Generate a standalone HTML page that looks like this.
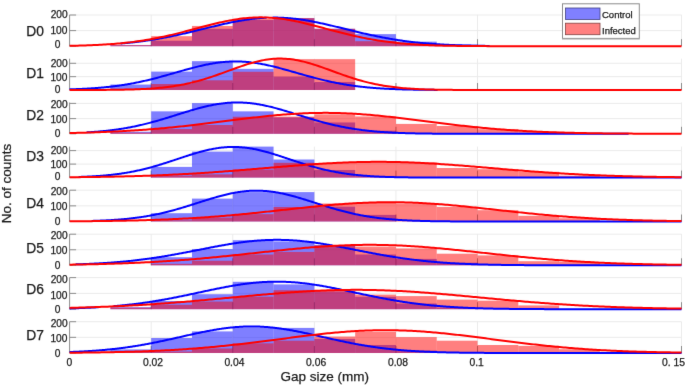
<!DOCTYPE html><html><head><meta charset="utf-8"><style>html,body{margin:0;padding:0;background:#fff;overflow:hidden;}svg{display:block;will-change:transform;}text{font-family:"Liberation Sans",sans-serif;fill:#1a1a1a;stroke:#1a1a1a;stroke-width:0.25px;}</style></head><body>
<svg width="685" height="385" viewBox="0 0 685 385">
<defs><filter id="bl" x="0" y="0" width="100%" height="100%" filterUnits="userSpaceOnUse" color-interpolation-filters="sRGB"><feConvolveMatrix order="3" kernelMatrix="0.00524 0.06192 0.00524 0.06192 0.73137 0.06192 0.00524 0.06192 0.00524" edgeMode="duplicate" preserveAlpha="true"/></filter></defs>
<g filter="url(#bl)">
<rect width="685" height="385" fill="#fff"/>
<line x1="151.19" y1="14.90" x2="151.19" y2="46.20" stroke="#ebebeb" stroke-width="1"/>
<line x1="232.77" y1="14.90" x2="232.77" y2="46.20" stroke="#ebebeb" stroke-width="1"/>
<line x1="314.36" y1="14.90" x2="314.36" y2="46.20" stroke="#ebebeb" stroke-width="1"/>
<line x1="395.94" y1="14.90" x2="395.94" y2="46.20" stroke="#ebebeb" stroke-width="1"/>
<line x1="477.53" y1="14.90" x2="477.53" y2="46.20" stroke="#ebebeb" stroke-width="1"/>
<line x1="681.50" y1="14.90" x2="681.50" y2="46.20" stroke="#ebebeb" stroke-width="1"/>
<line x1="69.6" y1="30.60" x2="681.50" y2="30.60" stroke="#ebebeb" stroke-width="1"/>
<line x1="69.6" y1="15.00" x2="681.50" y2="15.00" stroke="#ebebeb" stroke-width="1"/>
<line x1="69.6" y1="14.90" x2="69.6" y2="46.20" stroke="#8c8c8c" stroke-width="1"/>
<line x1="69.6" y1="46.20" x2="76.1" y2="46.20" stroke="#8c8c8c" stroke-width="1"/>
<line x1="69.6" y1="30.60" x2="76.1" y2="30.60" stroke="#8c8c8c" stroke-width="1"/>
<line x1="69.6" y1="15.00" x2="76.1" y2="15.00" stroke="#8c8c8c" stroke-width="1"/>
<line x1="151.19" y1="39.20" x2="151.19" y2="46.20" stroke="#8c8c8c" stroke-width="1"/>
<line x1="232.77" y1="39.20" x2="232.77" y2="46.20" stroke="#8c8c8c" stroke-width="1"/>
<line x1="314.36" y1="39.20" x2="314.36" y2="46.20" stroke="#8c8c8c" stroke-width="1"/>
<line x1="395.94" y1="39.20" x2="395.94" y2="46.20" stroke="#8c8c8c" stroke-width="1"/>
<line x1="477.53" y1="39.20" x2="477.53" y2="46.20" stroke="#8c8c8c" stroke-width="1"/>
<line x1="681.50" y1="39.20" x2="681.50" y2="46.20" stroke="#8c8c8c" stroke-width="1"/>
<rect x="110.39" y="45.12" width="40.79" height="1.09" fill="#0000ff" fill-opacity="0.5"/>
<rect x="151.19" y="40.72" width="40.79" height="5.48" fill="#0000ff" fill-opacity="0.5"/>
<rect x="191.98" y="28.79" width="40.79" height="17.41" fill="#0000ff" fill-opacity="0.5"/>
<rect x="232.77" y="19.99" width="40.79" height="26.21" fill="#0000ff" fill-opacity="0.5"/>
<rect x="273.57" y="18.11" width="40.79" height="28.09" fill="#0000ff" fill-opacity="0.5"/>
<rect x="314.36" y="28.79" width="40.79" height="17.41" fill="#0000ff" fill-opacity="0.5"/>
<rect x="355.15" y="34.12" width="40.79" height="12.08" fill="#0000ff" fill-opacity="0.5"/>
<rect x="395.94" y="41.66" width="40.79" height="4.54" fill="#0000ff" fill-opacity="0.5"/>
<rect x="436.74" y="44.64" width="40.79" height="1.56" fill="#0000ff" fill-opacity="0.5"/>
<rect x="110.39" y="45.12" width="40.79" height="1.09" fill="#ff0000" fill-opacity="0.5"/>
<rect x="151.19" y="36.17" width="40.79" height="10.03" fill="#ff0000" fill-opacity="0.5"/>
<rect x="191.98" y="25.96" width="40.79" height="20.24" fill="#ff0000" fill-opacity="0.5"/>
<rect x="232.77" y="19.05" width="40.79" height="27.15" fill="#ff0000" fill-opacity="0.5"/>
<rect x="273.57" y="18.11" width="40.79" height="28.09" fill="#ff0000" fill-opacity="0.5"/>
<rect x="314.36" y="28.79" width="40.79" height="17.41" fill="#ff0000" fill-opacity="0.5"/>
<rect x="355.15" y="41.19" width="40.79" height="5.01" fill="#ff0000" fill-opacity="0.5"/>
<rect x="395.94" y="43.70" width="40.79" height="2.50" fill="#ff0000" fill-opacity="0.5"/>
<rect x="436.74" y="45.43" width="40.79" height="0.77" fill="#ff0000" fill-opacity="0.5"/>
<path d="M120.60,43.53 L121.60,43.44 L122.60,43.36 L123.60,43.27 L124.60,43.18 L125.60,43.09 L126.60,43.00 L127.60,42.90 L128.60,42.80 L129.60,42.70 L130.60,42.60 L131.60,42.49 L132.60,42.39 L133.60,42.28 L134.60,42.16 L135.60,42.05 L136.60,41.93 L137.60,41.81 L138.60,41.69 L139.60,41.57 L140.60,41.44 L141.60,41.31 L142.60,41.18 L143.60,41.05 L144.60,40.91 L145.60,40.77 L146.60,40.63 L147.60,40.48 L148.60,40.34 L149.60,40.19 L150.60,40.04 L151.60,39.88 L152.60,39.72 L153.60,39.56 L154.60,39.40 L155.60,39.24 L156.60,39.07 L157.60,38.90 L158.60,38.73 L159.60,38.55 L160.60,38.38 L161.60,38.20 L162.60,38.01 L163.60,37.83 L164.60,37.64 L165.60,37.45 L166.60,37.26 L167.60,37.06 L168.60,36.87 L169.60,36.67 L170.60,36.47 L171.60,36.26 L172.60,36.06 L173.60,35.85 L174.60,35.64 L175.60,35.42 L176.60,35.21 L177.60,34.99 L178.60,34.77 L179.60,34.55 L180.60,34.33 L181.60,34.11 L182.60,33.88 L183.60,33.65 L184.60,33.42 L185.60,33.19 L186.60,32.96 L187.60,32.73 L188.60,32.49 L189.60,32.26 L190.60,32.02 L191.60,31.78 L192.60,31.54 L193.60,31.30 L194.60,31.06 L195.60,30.81 L196.60,30.57 L197.60,30.32 L198.60,30.08 L199.60,29.83 L200.60,29.59 L201.60,29.34 L202.60,29.10 L203.60,28.85 L204.60,28.60 L205.60,28.36 L206.60,28.11 L207.60,27.87 L208.60,27.62 L209.60,27.38 L210.60,27.13 L211.60,26.89 L212.60,26.65 L213.60,26.41 L214.60,26.16 L215.60,25.93 L216.60,25.69 L217.60,25.45 L218.60,25.21 L219.60,24.98 L220.60,24.75 L221.60,24.52 L222.60,24.29 L223.60,24.06 L224.60,23.84 L225.60,23.62 L226.60,23.40 L227.60,23.18 L228.60,22.97 L229.60,22.76 L230.60,22.55 L231.60,22.34 L232.60,22.14 L233.60,21.94 L234.60,21.74 L235.60,21.55 L236.60,21.36 L237.60,21.17 L238.60,20.99 L239.60,20.81 L240.60,20.64 L241.60,20.47 L242.60,20.30 L243.60,20.14 L244.60,19.98 L245.60,19.83 L246.60,19.68 L247.60,19.53 L248.60,19.39 L249.60,19.26 L250.60,19.13 L251.60,19.00 L252.60,18.88 L253.60,18.76 L254.60,18.65 L255.60,18.55 L256.60,18.45 L257.60,18.35 L258.60,18.26 L259.60,18.18 L260.60,18.10 L261.60,18.02 L262.60,17.95 L263.60,17.89 L264.60,17.83 L265.60,17.78 L266.60,17.74 M272.60,17.58 L273.60,17.57 L274.60,17.57 L275.60,17.58 L276.60,17.59 L277.60,17.60 L278.60,17.63 L279.60,17.65 L280.60,17.69 L281.60,17.73 L282.60,17.77 L283.60,17.82 L284.60,17.88 L285.60,17.94 L286.60,18.01 L287.60,18.08 L288.60,18.16 L289.60,18.25 L290.60,18.34 L291.60,18.43 L292.60,18.53 L293.60,18.64 L294.60,18.75 L295.60,18.86 L296.60,18.98 L297.60,19.11 L298.60,19.24 L299.60,19.37 L300.60,19.51 L301.60,19.65 L302.60,19.80 L303.60,19.96 L304.60,20.11 L305.60,20.28 L306.60,20.44 L307.60,20.61 L308.60,20.79 L309.60,20.96 L310.60,21.14 L311.60,21.33 L312.60,21.52 L313.60,21.71 L314.60,21.91 L315.60,22.11 L316.60,22.31 L317.60,22.51 L318.60,22.72 L319.60,22.93 L320.60,23.15 L321.60,23.36 L322.60,23.58 L323.60,23.80 L324.60,24.03 L325.60,24.25 L326.60,24.48 L327.60,24.71 L328.60,24.94 L329.60,25.18 L330.60,25.41 L331.60,25.65 L332.60,25.89 L333.60,26.13 L334.60,26.37 L335.60,26.61 L336.60,26.85 L337.60,27.09 L338.60,27.34 L339.60,27.58 L340.60,27.83 L341.60,28.07 L342.60,28.32 L343.60,28.56 L344.60,28.81 L345.60,29.06 L346.60,29.30 L347.60,29.55 L348.60,29.79 L349.60,30.04 L350.60,30.29 L351.60,30.53 L352.60,30.77 L353.60,31.02 L354.60,31.26 L355.60,31.50 L356.60,31.74 L357.60,31.98 L358.60,32.22 L359.60,32.45 L360.60,32.69 L361.60,32.92 L362.60,33.16 L363.60,33.39 L364.60,33.62 L365.60,33.84 L366.60,34.07 L367.60,34.30 L368.60,34.52 L369.60,34.74 L370.60,34.96 L371.60,35.17 L372.60,35.39 L373.60,35.60 L374.60,35.81 L375.60,36.02 L376.60,36.23 L377.60,36.43 L378.60,36.63 L379.60,36.83 L380.60,37.03 L381.60,37.23 L382.60,37.42 L383.60,37.61 L384.60,37.80 L385.60,37.98 L386.60,38.17 L387.60,38.35 L388.60,38.52 L389.60,38.70 L390.60,38.87 L391.60,39.04 L392.60,39.21 L393.60,39.38 L394.60,39.54 L395.60,39.70 L396.60,39.86 L397.60,40.01 L398.60,40.16 L399.60,40.31 L400.60,40.46 L401.60,40.60 L402.60,40.75 L403.60,40.89 L404.60,41.02 L405.60,41.16 L406.60,41.29 L407.60,41.42 L408.60,41.55 L409.60,41.67 L410.60,41.79 L411.60,41.91 L412.60,42.03 L413.60,42.14 L414.60,42.26 L415.60,42.37 L416.60,42.48 L417.60,42.58 L418.60,42.68 L419.60,42.79 L420.60,42.88 L421.60,42.98 L422.60,43.07 L423.60,43.17 L424.60,43.26 L425.60,43.34 L426.60,43.43 L427.60,43.51 L428.60,43.60 L429.60,43.68 L430.60,43.75 L431.60,43.83 L432.60,43.90 L433.60,43.98 L434.60,44.05 L435.60,44.12 L436.60,44.18 L437.60,44.25 L438.60,44.31 L439.60,44.37 L440.60,44.43 L441.60,44.49 L442.60,44.55 L443.60,44.60 L444.60,44.66 L445.60,44.71 L446.60,44.76 L447.60,44.81 L448.60,44.86 L449.60,44.90 L450.60,44.95 L451.60,44.99 L452.60,45.03 L453.60,45.08 L454.60,45.12 L455.60,45.15 L456.60,45.19 L457.60,45.23 L458.60,45.26 L459.60,45.30 L460.60,45.33 L461.60,45.36 L462.60,45.39 L463.60,45.42 L464.60,45.45 L465.60,45.48 L466.60,45.51 L467.60,45.53 L468.60,45.56 L469.60,45.58 L470.60,45.61 L471.60,45.63 L472.60,45.65 L473.60,45.67 L474.60,45.70 L475.60,45.72 L476.60,45.73 L477.60,45.75 L478.60,45.77 L479.60,45.79 L480.60,45.81 L481.60,45.82 L482.60,45.84 L483.60,45.85 L484.60,45.87 L485.60,45.88 L486.60,45.89 L487.60,45.91 L488.60,45.92 L489.60,45.93" fill="none" stroke="#0000ff" stroke-width="2.0" stroke-linejoin="round"/>
<path d="M69.60,45.80 L71.60,45.77 L73.60,45.73 L75.60,45.68 L77.60,45.64 L79.60,45.59 L81.60,45.53 L83.60,45.47 L85.60,45.41 L87.60,45.34 L89.60,45.27 L91.60,45.19 L93.60,45.11 L95.60,45.02 L97.60,44.93 L99.60,44.83 L101.60,44.72 L103.60,44.61 L105.60,44.49 L107.60,44.36 L109.60,44.22 L111.60,44.08 L113.60,43.93 L115.60,43.77 L117.60,43.59 L119.60,43.42 L121.60,43.23 L123.60,43.03 L125.60,42.82 L127.60,42.60 L129.60,42.37 L131.60,42.13 L133.60,41.87 L135.60,41.61 L137.60,41.33 L139.60,41.05 L141.60,40.75 L143.60,40.44 L145.60,40.11 L147.60,39.78 L149.60,39.43 L151.60,39.07 L153.60,38.70 L155.60,38.32 L157.60,37.92 L159.60,37.52 L161.60,37.10 L163.60,36.67 L165.60,36.23 L167.60,35.78 L169.60,35.32 L171.60,34.85 L173.60,34.37 L175.60,33.88 L177.60,33.39 L179.60,32.89 L181.60,32.37 L183.60,31.86 L185.60,31.34 L187.60,30.81 L189.60,30.28 L191.60,29.75 L193.60,29.21 L195.60,28.68 L197.60,28.14 L199.60,27.61 L201.60,27.08 L203.60,26.55 L205.60,26.02 L207.60,25.50 L209.60,24.99 L211.60,24.48 L213.60,23.99 L215.60,23.50 L217.60,23.03 L219.60,22.56 L221.60,22.11 L223.60,21.68 L225.60,21.26 L227.60,20.86 L229.60,20.47 L231.60,20.11 L233.60,19.76 L235.60,19.43 L237.60,19.13 L239.60,18.84 L241.60,18.58 L243.60,18.35 L245.60,18.14 L247.60,17.95 L249.60,17.79 L251.60,17.65 L253.60,17.54 L255.60,17.46 L257.60,17.40 L259.60,17.37 L261.60,17.37 L263.60,17.40 L265.60,17.45 L267.60,17.53 L269.60,17.63 L271.60,17.77 L273.60,17.92 L275.60,18.11 L277.60,18.31 L279.60,18.55 L281.60,18.80 L283.60,19.08 L285.60,19.38 L287.60,19.71 L289.60,20.05 L291.60,20.42 L293.60,20.80 L295.60,21.20 L297.60,21.62 L299.60,22.05 L301.60,22.50 L303.60,22.96 L305.60,23.43 L307.60,23.91 L309.60,24.41 L311.60,24.91 L313.60,25.42 L315.60,25.94 L317.60,26.47 L319.60,27.00 L321.60,27.53 L323.60,28.06 L325.60,28.60 L327.60,29.13 L329.60,29.67 L331.60,30.20 L333.60,30.73 L335.60,31.26 L337.60,31.78 L339.60,32.30 L341.60,32.81 L343.60,33.31 L345.60,33.81 L347.60,34.30 L349.60,34.78 L351.60,35.25 L353.60,35.71 L355.60,36.17 L357.60,36.61 L359.60,37.04 L361.60,37.46 L363.60,37.86 L365.60,38.26 L367.60,38.65 L369.60,39.02 L371.60,39.38 L373.60,39.73 L375.60,40.06 L377.60,40.39 L379.60,40.70 L381.60,41.00 L383.60,41.29 L385.60,41.57 L387.60,41.83 L389.60,42.09 L391.60,42.33 L393.60,42.56 L395.60,42.78 L397.60,43.00 L399.60,43.20 L401.60,43.39 L403.60,43.57 L405.60,43.74 L407.60,43.90 L409.60,44.06 L411.60,44.20 L413.60,44.34 L415.60,44.47 L417.60,44.59 L419.60,44.71 L421.60,44.81 L423.60,44.92 L425.60,45.01 L427.60,45.10 L429.60,45.18 L431.60,45.26 L433.60,45.33 L435.60,45.40 L437.60,45.46 L439.60,45.52 L441.60,45.58 L443.60,45.63 L445.60,45.68 L447.60,45.72 L449.60,45.76 L451.60,45.80 L453.60,45.83 L455.60,45.86 L457.60,45.89 L459.60,45.92 L461.60,45.95 L463.60,45.97 L465.60,45.99 L467.60,46.01 L469.60,46.03 L471.60,46.04 L473.60,46.06 L475.60,46.07 L477.60,46.08 L479.60,46.10 L481.60,46.11 L483.60,46.11 L485.60,46.12 L487.60,46.13 L489.60,46.14 L491.60,46.14 L493.60,46.15 L495.60,46.16 L497.60,46.16 L499.60,46.16 L501.60,46.17 L503.60,46.17 L505.60,46.17 L507.60,46.18 L509.60,46.18 L511.60,46.18 L513.60,46.18 L515.60,46.19 L517.60,46.19 L519.60,46.19 L521.60,46.19 L523.60,46.19 L525.60,46.19 L527.60,46.19 L529.60,46.19 L531.60,46.19 L533.60,46.20 L535.60,46.20 L537.60,46.20 L539.60,46.20 L541.60,46.20 L543.60,46.20 L545.60,46.20 L547.60,46.20 L549.60,46.20 L551.60,46.20 L553.60,46.20 L555.60,46.20 L557.60,46.20 L559.60,46.20 L561.60,46.20 L563.60,46.20 L565.60,46.20 L567.60,46.20 L569.60,46.20 L571.60,46.20 L573.60,46.20 L575.60,46.20 L577.60,46.20 L579.60,46.20 L581.60,46.20 L583.60,46.20 L585.60,46.20 L587.60,46.20 L589.60,46.20 L591.60,46.20 L593.60,46.20 L595.60,46.20 L597.60,46.20 L599.60,46.20 L601.60,46.20 L603.60,46.20 L605.60,46.20 L607.60,46.20 L609.60,46.20 L611.60,46.20 L613.60,46.20 L615.60,46.20 L617.60,46.20 L619.60,46.20 L621.60,46.20 L623.60,46.20 L625.60,46.20 L627.60,46.20 L629.60,46.20 L631.60,46.20 L633.60,46.20 L635.60,46.20 L637.60,46.20 L639.60,46.20 L641.60,46.20 L643.60,46.20 L645.60,46.20 L647.60,46.20 L649.60,46.20 L651.60,46.20 L653.60,46.20 L655.60,46.20 L657.60,46.20 L659.60,46.20 L661.60,46.20 L663.60,46.20 L665.60,46.20 L667.60,46.20 L669.60,46.20 L671.60,46.20 L673.60,46.20 L675.60,46.20 L677.60,46.20 L679.60,46.20 L681.50,46.20" fill="none" stroke="#ff0000" stroke-width="2.0" stroke-linejoin="round"/>
<text x="57.6" y="48.20" font-size="10.2" text-anchor="middle">0</text>
<text x="58.9" y="34.35" font-size="10.2" text-anchor="middle">100</text>
<text x="59.2" y="18.10" font-size="10.2" text-anchor="middle">200</text>
<text x="26.2" y="36.20" font-size="13.8">D0</text>
<line x1="151.19" y1="58.70" x2="151.19" y2="90.00" stroke="#ebebeb" stroke-width="1"/>
<line x1="232.77" y1="58.70" x2="232.77" y2="90.00" stroke="#ebebeb" stroke-width="1"/>
<line x1="314.36" y1="58.70" x2="314.36" y2="90.00" stroke="#ebebeb" stroke-width="1"/>
<line x1="395.94" y1="58.70" x2="395.94" y2="90.00" stroke="#ebebeb" stroke-width="1"/>
<line x1="477.53" y1="58.70" x2="477.53" y2="90.00" stroke="#ebebeb" stroke-width="1"/>
<line x1="681.50" y1="58.70" x2="681.50" y2="90.00" stroke="#ebebeb" stroke-width="1"/>
<line x1="69.6" y1="76.65" x2="681.50" y2="76.65" stroke="#ebebeb" stroke-width="1"/>
<line x1="69.6" y1="63.30" x2="681.50" y2="63.30" stroke="#ebebeb" stroke-width="1"/>
<line x1="69.6" y1="58.70" x2="69.6" y2="90.00" stroke="#8c8c8c" stroke-width="1"/>
<line x1="69.6" y1="90.00" x2="76.1" y2="90.00" stroke="#8c8c8c" stroke-width="1"/>
<line x1="69.6" y1="76.65" x2="76.1" y2="76.65" stroke="#8c8c8c" stroke-width="1"/>
<line x1="69.6" y1="63.30" x2="76.1" y2="63.30" stroke="#8c8c8c" stroke-width="1"/>
<line x1="151.19" y1="83.00" x2="151.19" y2="90.00" stroke="#8c8c8c" stroke-width="1"/>
<line x1="232.77" y1="83.00" x2="232.77" y2="90.00" stroke="#8c8c8c" stroke-width="1"/>
<line x1="314.36" y1="83.00" x2="314.36" y2="90.00" stroke="#8c8c8c" stroke-width="1"/>
<line x1="395.94" y1="83.00" x2="395.94" y2="90.00" stroke="#8c8c8c" stroke-width="1"/>
<line x1="477.53" y1="83.00" x2="477.53" y2="90.00" stroke="#8c8c8c" stroke-width="1"/>
<line x1="681.50" y1="83.00" x2="681.50" y2="90.00" stroke="#8c8c8c" stroke-width="1"/>
<rect x="110.39" y="84.55" width="40.79" height="5.45" fill="#0000ff" fill-opacity="0.5"/>
<rect x="151.19" y="71.60" width="40.79" height="18.40" fill="#0000ff" fill-opacity="0.5"/>
<rect x="191.98" y="61.14" width="40.79" height="28.86" fill="#0000ff" fill-opacity="0.5"/>
<rect x="232.77" y="68.85" width="40.79" height="21.15" fill="#0000ff" fill-opacity="0.5"/>
<rect x="273.57" y="76.57" width="40.79" height="13.43" fill="#0000ff" fill-opacity="0.5"/>
<rect x="314.36" y="82.02" width="40.79" height="7.98" fill="#0000ff" fill-opacity="0.5"/>
<rect x="110.39" y="88.93" width="40.79" height="1.07" fill="#ff0000" fill-opacity="0.5"/>
<rect x="151.19" y="84.01" width="40.79" height="5.99" fill="#ff0000" fill-opacity="0.5"/>
<rect x="191.98" y="80.29" width="40.79" height="9.71" fill="#ff0000" fill-opacity="0.5"/>
<rect x="232.77" y="71.78" width="40.79" height="18.22" fill="#ff0000" fill-opacity="0.5"/>
<rect x="273.57" y="59.14" width="40.79" height="30.86" fill="#ff0000" fill-opacity="0.5"/>
<rect x="314.36" y="59.14" width="40.79" height="30.86" fill="#ff0000" fill-opacity="0.5"/>
<path d="M69.60,89.35 L70.60,89.32 L71.60,89.29 L72.60,89.26 L73.60,89.23 L74.60,89.19 L75.60,89.16 L76.60,89.12 L77.60,89.08 L78.60,89.04 L79.60,89.00 L80.60,88.95 L81.60,88.91 L82.60,88.86 L83.60,88.81 L84.60,88.76 L85.60,88.71 L86.60,88.65 L87.60,88.60 L88.60,88.54 L89.60,88.48 L90.60,88.42 L91.60,88.35 L92.60,88.29 L93.60,88.22 L94.60,88.15 L95.60,88.07 L96.60,88.00 L97.60,87.92 L98.60,87.84 L99.60,87.76 L100.60,87.67 L101.60,87.59 L102.60,87.50 L103.60,87.40 L104.60,87.31 L105.60,87.21 L106.60,87.11 L107.60,87.00 L108.60,86.90 L109.60,86.79 L110.60,86.67 L111.60,86.56 L112.60,86.44 L113.60,86.32 L114.60,86.19 L115.60,86.06 L116.60,85.93 L117.60,85.80 L118.60,85.66 L119.60,85.52 L120.60,85.37 L121.60,85.23 L122.60,85.08 L123.60,84.92 L124.60,84.76 L125.60,84.60 L126.60,84.44 L127.60,84.27 L128.60,84.10 L129.60,83.92 L130.60,83.74 L131.60,83.56 L132.60,83.37 L133.60,83.18 L134.60,82.99 L135.60,82.79 L136.60,82.59 L137.60,82.39 L138.60,82.18 L139.60,81.97 L140.60,81.76 L141.60,81.54 L142.60,81.32 L143.60,81.10 L144.60,80.87 L145.60,80.64 L146.60,80.41 L147.60,80.17 L148.60,79.94 L149.60,79.69 L150.60,79.45 L151.60,79.20 L152.60,78.95 L153.60,78.70 L154.60,78.44 L155.60,78.18 L156.60,77.92 L157.60,77.66 L158.60,77.39 L159.60,77.12 L160.60,76.85 L161.60,76.58 L162.60,76.30 L163.60,76.03 L164.60,75.75 L165.60,75.47 L166.60,75.19 L167.60,74.91 L168.60,74.63 L169.60,74.34 L170.60,74.06 L171.60,73.77 L172.60,73.49 L173.60,73.20 L174.60,72.91 L175.60,72.63 L176.60,72.34 L177.60,72.05 L178.60,71.77 L179.60,71.48 L180.60,71.20 L181.60,70.91 L182.60,70.63 L183.60,70.35 L184.60,70.07 L185.60,69.79 L186.60,69.51 L187.60,69.24 L188.60,68.96 L189.60,68.69 L190.60,68.42 L191.60,68.16 L192.60,67.89 L193.60,67.63 L194.60,67.38 L195.60,67.12 L196.60,66.87 L197.60,66.63 L198.60,66.38 L199.60,66.15 L200.60,65.91 L201.60,65.68 L202.60,65.46 L203.60,65.23 L204.60,65.02 L205.60,64.81 L206.60,64.60 L207.60,64.40 L208.60,64.21 L209.60,64.02 L210.60,63.83 L211.60,63.66 L212.60,63.49 L213.60,63.32 L214.60,63.16 L215.60,63.01 L216.60,62.86 L217.60,62.73 L218.60,62.59 L219.60,62.47 L220.60,62.35 L221.60,62.24 L222.60,62.13 L223.60,62.04 L224.60,61.95 L225.60,61.87 L226.60,61.79 L227.60,61.73 L228.60,61.67 L229.60,61.61 L230.60,61.57 L231.60,61.54 L232.60,61.51 L233.60,61.49 L234.60,61.47 L235.60,61.47 L236.60,61.47 L237.60,61.48 L238.60,61.50 L239.60,61.53 L240.60,61.56 L241.60,61.61 L242.60,61.65 L243.60,61.71 L244.60,61.78 L245.60,61.85 L246.60,61.93 L247.60,62.02 L248.60,62.11 L249.60,62.22 L250.60,62.33 L251.60,62.44 M253.60,62.70 L254.60,62.83 L255.60,62.98 L256.60,63.13 L257.60,63.29 L258.60,63.45 L259.60,63.62 L260.60,63.80 L261.60,63.98 L262.60,64.17 L263.60,64.36 L264.60,64.56 L265.60,64.76 L266.60,64.97 L267.60,65.19 L268.60,65.41 L269.60,65.63 L270.60,65.86 L271.60,66.10 L272.60,66.33 L273.60,66.58 L274.60,66.82 L275.60,67.07 L276.60,67.32 L277.60,67.58 L278.60,67.84 L279.60,68.10 L280.60,68.37 L281.60,68.64 L282.60,68.91 L283.60,69.18 L284.60,69.45 L285.60,69.73 L286.60,70.01 L287.60,70.29 L288.60,70.57 L289.60,70.85 L290.60,71.14 L291.60,71.42 L292.60,71.71 L293.60,71.99 L294.60,72.28 L295.60,72.57 L296.60,72.85 L297.60,73.14 L298.60,73.43 L299.60,73.71 L300.60,74.00 L301.60,74.28 L302.60,74.57 L303.60,74.85 L304.60,75.13 L305.60,75.41 L306.60,75.69 L307.60,75.97 L308.60,76.25 L309.60,76.52 L310.60,76.79 L311.60,77.06 L312.60,77.33 L313.60,77.60 L314.60,77.86 L315.60,78.13 L316.60,78.39 L317.60,78.64 L318.60,78.90 L319.60,79.15 L320.60,79.40 L321.60,79.64 L322.60,79.88 L323.60,80.12 L324.60,80.36 L325.60,80.60 L326.60,80.83 L327.60,81.05 L328.60,81.28 L329.60,81.50 L330.60,81.72 L331.60,81.93 L332.60,82.14 L333.60,82.35 L334.60,82.55 L335.60,82.75 L336.60,82.95 L337.60,83.14 L338.60,83.33 L339.60,83.52 L340.60,83.70 L341.60,83.88 L342.60,84.06 L343.60,84.23 L344.60,84.40 L345.60,84.57 L346.60,84.73 L347.60,84.89 L348.60,85.04 L349.60,85.20 L350.60,85.34 L351.60,85.49 L352.60,85.63 L353.60,85.77 L354.60,85.91 L355.60,86.04 L356.60,86.17 L357.60,86.29 L358.60,86.41 L359.60,86.53 L360.60,86.65 L361.60,86.76 L362.60,86.87 L363.60,86.98 L364.60,87.09 L365.60,87.19 L366.60,87.29 L367.60,87.38 L368.60,87.48 L369.60,87.57 L370.60,87.66 L371.60,87.74 L372.60,87.82 L373.60,87.90 L374.60,87.98 L375.60,88.06 L376.60,88.13 L377.60,88.20 L378.60,88.27 L379.60,88.34 L380.60,88.40 L381.60,88.47 L382.60,88.53 L383.60,88.58 L384.60,88.64 L385.60,88.70 L386.60,88.75 L387.60,88.80 L388.60,88.85 L389.60,88.90 L390.60,88.94 L391.60,88.99 L392.60,89.03 L393.60,89.07 L394.60,89.11 L395.60,89.15 L396.60,89.18 L397.60,89.22 L398.60,89.25 L399.60,89.29 L400.60,89.32 L401.60,89.35 L402.60,89.38 L403.60,89.41 L404.60,89.43 L405.60,89.46 L406.60,89.48 L407.60,89.51 L408.60,89.53 L409.60,89.55 L410.60,89.57 L411.60,89.59 L412.60,89.61 L413.60,89.63 L414.60,89.65 L415.60,89.66 L416.60,89.68 L417.60,89.70 L418.60,89.71 L419.60,89.73 L420.60,89.74 L421.60,89.75 L422.60,89.76 L423.60,89.78 L424.60,89.79 L425.60,89.80 L426.60,89.81 L427.60,89.82 L428.60,89.83 L429.60,89.84 L430.60,89.85 L431.60,89.85 L432.60,89.86 L433.60,89.87 L434.60,89.88 L435.60,89.88 L436.60,89.89 L437.60,89.89" fill="none" stroke="#0000ff" stroke-width="2.0" stroke-linejoin="round"/>
<path d="M69.60,89.99 L71.60,89.99 L73.60,89.99 L75.60,89.99 L77.60,89.98 L79.60,89.98 L81.60,89.98 L83.60,89.98 L85.60,89.97 L87.60,89.97 L89.60,89.96 L91.60,89.96 L93.60,89.95 L95.60,89.94 L97.60,89.93 L99.60,89.93 L101.60,89.91 L103.60,89.90 L105.60,89.89 L107.60,89.87 L109.60,89.86 L111.60,89.84 L113.60,89.82 L115.60,89.79 L117.60,89.76 L119.60,89.74 L121.60,89.70 L123.60,89.66 L125.60,89.62 L127.60,89.58 L129.60,89.53 L131.60,89.47 L133.60,89.41 L135.60,89.35 L137.60,89.27 L139.60,89.19 L141.60,89.10 L143.60,89.01 L145.60,88.90 L147.60,88.79 L149.60,88.66 L151.60,88.53 L153.60,88.38 L155.60,88.23 L157.60,88.06 L159.60,87.87 L161.60,87.67 L163.60,87.46 L165.60,87.24 L167.60,86.99 L169.60,86.73 L171.60,86.46 L173.60,86.16 L175.60,85.85 L177.60,85.52 L179.60,85.17 L181.60,84.80 L183.60,84.41 L185.60,84.00 L187.60,83.57 L189.60,83.12 L191.60,82.65 L193.60,82.15 L195.60,81.64 L197.60,81.11 L199.60,80.55 L201.60,79.98 L203.60,79.39 L205.60,78.78 L207.60,78.15 L209.60,77.50 L211.60,76.84 L213.60,76.16 L215.60,75.48 L217.60,74.77 L219.60,74.06 L221.60,73.35 L223.60,72.62 L225.60,71.89 L227.60,71.16 L229.60,70.42 L231.60,69.69 L233.60,68.96 L235.60,68.24 L237.60,67.53 L239.60,66.82 L241.60,66.13 L243.60,65.46 L245.60,64.81 L247.60,64.17 L249.60,63.56 L251.60,62.98 L253.60,62.42 L255.60,61.89 L257.60,61.40 L259.60,60.94 L261.60,60.51 L263.60,60.13 L265.60,59.78 L267.60,59.48 L269.60,59.21 L271.60,59.00 L273.60,58.82 L275.60,58.69 L277.60,58.61 L279.60,58.58 L281.60,58.59 L283.60,58.65 L285.60,58.75 L287.60,58.90 L289.60,59.09 L291.60,59.33 L293.60,59.61 L295.60,59.94 L297.60,60.30 L299.60,60.71 L301.60,61.15 L303.60,61.62 L305.60,62.13 L307.60,62.68 L309.60,63.25 L311.60,63.84 L313.60,64.47 L315.60,65.11 L317.60,65.77 L319.60,66.45 L321.60,67.15 L323.60,67.86 L325.60,68.58 L327.60,69.30 L329.60,70.03 L331.60,70.77 L333.60,71.50 L335.60,72.23 L337.60,72.96 L339.60,73.68 L341.60,74.40 L343.60,75.10 L345.60,75.80 L347.60,76.48 L349.60,77.15 L351.60,77.80 L353.60,78.44 L355.60,79.06 L357.60,79.67 L359.60,80.25 L361.60,80.81 L363.60,81.36 L365.60,81.88 L367.60,82.39 L369.60,82.87 L371.60,83.33 L373.60,83.77 L375.60,84.20 L377.60,84.60 L379.60,84.98 L381.60,85.34 L383.60,85.68 L385.60,86.00 L387.60,86.30 L389.60,86.59 L391.60,86.86 L393.60,87.11 L395.60,87.34 L397.60,87.56 L399.60,87.77 L401.60,87.96 L403.60,88.14 L405.60,88.30 L407.60,88.45 L409.60,88.59 L411.60,88.72 L413.60,88.84 L415.60,88.95 L417.60,89.05 L419.60,89.15 L421.60,89.23 L423.60,89.31 L425.60,89.38 L427.60,89.44 L429.60,89.50 L431.60,89.55 L433.60,89.60 L435.60,89.64 L437.60,89.68 L439.60,89.72 L441.60,89.75 L443.60,89.78 L445.60,89.80 L447.60,89.83 L449.60,89.85 L451.60,89.86 L453.60,89.88 L455.60,89.90 L457.60,89.91 L459.60,89.92 L461.60,89.93 L463.60,89.94 L465.60,89.95 L467.60,89.95 L469.60,89.96 L471.60,89.96 L473.60,89.97 L475.60,89.97 L477.60,89.98 L479.60,89.98 L481.60,89.98 L483.60,89.99 L485.60,89.99 L487.60,89.99 L489.60,89.99 L491.60,89.99 L493.60,89.99 L495.60,89.99 L497.60,90.00 L499.60,90.00 L501.60,90.00 L503.60,90.00 L505.60,90.00 L507.60,90.00 L509.60,90.00 L511.60,90.00 L513.60,90.00 L515.60,90.00 L517.60,90.00 L519.60,90.00 L521.60,90.00 L523.60,90.00 L525.60,90.00 L527.60,90.00 L529.60,90.00 L531.60,90.00 L533.60,90.00 L535.60,90.00 L537.60,90.00 L539.60,90.00 L541.60,90.00 L543.60,90.00 L545.60,90.00 L547.60,90.00 L549.60,90.00 L551.60,90.00 L553.60,90.00 L555.60,90.00 L557.60,90.00 L559.60,90.00 L561.60,90.00 L563.60,90.00 L565.60,90.00 L567.60,90.00 L569.60,90.00 L571.60,90.00 L573.60,90.00 L575.60,90.00 L577.60,90.00 L579.60,90.00 L581.60,90.00 L583.60,90.00 L585.60,90.00 L587.60,90.00 L589.60,90.00 L591.60,90.00 L593.60,90.00 L595.60,90.00 L597.60,90.00 L599.60,90.00 L601.60,90.00 L603.60,90.00 L605.60,90.00 L607.60,90.00 L609.60,90.00 L611.60,90.00 L613.60,90.00 L615.60,90.00 L617.60,90.00 L619.60,90.00 L621.60,90.00 L623.60,90.00 L625.60,90.00 L627.60,90.00 L629.60,90.00 L631.60,90.00 L633.60,90.00 L635.60,90.00 L637.60,90.00 L639.60,90.00 L641.60,90.00 L643.60,90.00 L645.60,90.00 L647.60,90.00 L649.60,90.00 L651.60,90.00 L653.60,90.00 L655.60,90.00 L657.60,90.00 L659.60,90.00 L661.60,90.00 L663.60,90.00 L665.60,90.00 L667.60,90.00 L669.60,90.00 L671.60,90.00 L673.60,90.00 L675.60,90.00 L677.60,90.00 L679.60,90.00 L681.50,90.00" fill="none" stroke="#ff0000" stroke-width="2.0" stroke-linejoin="round"/>
<text x="57.6" y="92.70" font-size="10.2" text-anchor="middle">0</text>
<text x="58.9" y="80.55" font-size="10.2" text-anchor="middle">100</text>
<text x="59.2" y="66.95" font-size="10.2" text-anchor="middle">200</text>
<text x="26.2" y="77.60" font-size="13.8">D1</text>
<line x1="151.19" y1="102.50" x2="151.19" y2="133.80" stroke="#ebebeb" stroke-width="1"/>
<line x1="232.77" y1="102.50" x2="232.77" y2="133.80" stroke="#ebebeb" stroke-width="1"/>
<line x1="314.36" y1="102.50" x2="314.36" y2="133.80" stroke="#ebebeb" stroke-width="1"/>
<line x1="395.94" y1="102.50" x2="395.94" y2="133.80" stroke="#ebebeb" stroke-width="1"/>
<line x1="477.53" y1="102.50" x2="477.53" y2="133.80" stroke="#ebebeb" stroke-width="1"/>
<line x1="681.50" y1="102.50" x2="681.50" y2="133.80" stroke="#ebebeb" stroke-width="1"/>
<line x1="69.6" y1="118.60" x2="681.50" y2="118.60" stroke="#ebebeb" stroke-width="1"/>
<line x1="69.6" y1="103.40" x2="681.50" y2="103.40" stroke="#ebebeb" stroke-width="1"/>
<line x1="69.6" y1="102.50" x2="69.6" y2="133.80" stroke="#8c8c8c" stroke-width="1"/>
<line x1="69.6" y1="133.80" x2="76.1" y2="133.80" stroke="#8c8c8c" stroke-width="1"/>
<line x1="69.6" y1="118.60" x2="76.1" y2="118.60" stroke="#8c8c8c" stroke-width="1"/>
<line x1="69.6" y1="103.40" x2="76.1" y2="103.40" stroke="#8c8c8c" stroke-width="1"/>
<line x1="151.19" y1="126.80" x2="151.19" y2="133.80" stroke="#8c8c8c" stroke-width="1"/>
<line x1="232.77" y1="126.80" x2="232.77" y2="133.80" stroke="#8c8c8c" stroke-width="1"/>
<line x1="314.36" y1="126.80" x2="314.36" y2="133.80" stroke="#8c8c8c" stroke-width="1"/>
<line x1="395.94" y1="126.80" x2="395.94" y2="133.80" stroke="#8c8c8c" stroke-width="1"/>
<line x1="477.53" y1="126.80" x2="477.53" y2="133.80" stroke="#8c8c8c" stroke-width="1"/>
<line x1="681.50" y1="126.80" x2="681.50" y2="133.80" stroke="#8c8c8c" stroke-width="1"/>
<rect x="110.39" y="131.75" width="40.79" height="2.05" fill="#0000ff" fill-opacity="0.5"/>
<rect x="151.19" y="111.35" width="40.79" height="22.45" fill="#0000ff" fill-opacity="0.5"/>
<rect x="191.98" y="103.10" width="40.79" height="30.70" fill="#0000ff" fill-opacity="0.5"/>
<rect x="232.77" y="111.35" width="40.79" height="22.45" fill="#0000ff" fill-opacity="0.5"/>
<rect x="273.57" y="117.35" width="40.79" height="16.45" fill="#0000ff" fill-opacity="0.5"/>
<rect x="314.36" y="122.45" width="40.79" height="11.35" fill="#0000ff" fill-opacity="0.5"/>
<rect x="355.15" y="130.70" width="40.79" height="3.10" fill="#0000ff" fill-opacity="0.5"/>
<rect x="110.39" y="132.65" width="40.79" height="1.15" fill="#ff0000" fill-opacity="0.5"/>
<rect x="151.19" y="129.05" width="40.79" height="4.75" fill="#ff0000" fill-opacity="0.5"/>
<rect x="191.98" y="125.00" width="40.79" height="8.80" fill="#ff0000" fill-opacity="0.5"/>
<rect x="232.77" y="116.75" width="40.79" height="17.05" fill="#ff0000" fill-opacity="0.5"/>
<rect x="273.57" y="116.60" width="40.79" height="17.20" fill="#ff0000" fill-opacity="0.5"/>
<rect x="314.36" y="114.35" width="40.79" height="19.45" fill="#ff0000" fill-opacity="0.5"/>
<rect x="355.15" y="116.45" width="40.79" height="17.35" fill="#ff0000" fill-opacity="0.5"/>
<rect x="395.94" y="123.90" width="40.79" height="9.90" fill="#ff0000" fill-opacity="0.5"/>
<rect x="436.74" y="126.00" width="40.79" height="7.80" fill="#ff0000" fill-opacity="0.5"/>
<rect x="477.53" y="129.20" width="40.79" height="4.60" fill="#ff0000" fill-opacity="0.5"/>
<rect x="518.32" y="131.75" width="40.79" height="2.05" fill="#ff0000" fill-opacity="0.5"/>
<path d="M86.60,132.40 L87.60,132.34 L88.60,132.28 L89.60,132.22 L90.60,132.15 L91.60,132.08 L92.60,132.01 L93.60,131.94 L94.60,131.87 L95.60,131.79 L96.60,131.71 L97.60,131.63 L98.60,131.55 L99.60,131.46 L100.60,131.37 L101.60,131.28 L102.60,131.18 L103.60,131.08 L104.60,130.98 L105.60,130.88 L106.60,130.77 L107.60,130.66 L108.60,130.55 L109.60,130.44 L110.60,130.32 L111.60,130.19 L112.60,130.07 L113.60,129.94 L114.60,129.81 L115.60,129.67 L116.60,129.53 L117.60,129.39 L118.60,129.24 L119.60,129.09 L120.60,128.94 L121.60,128.78 L122.60,128.62 L123.60,128.46 L124.60,128.29 L125.60,128.12 L126.60,127.94 L127.60,127.77 L128.60,127.58 L129.60,127.40 L130.60,127.20 L131.60,127.01 L132.60,126.81 L133.60,126.61 L134.60,126.40 L135.60,126.19 L136.60,125.98 L137.60,125.76 L138.60,125.54 L139.60,125.32 L140.60,125.09 L141.60,124.86 L142.60,124.62 L143.60,124.38 L144.60,124.14 L145.60,123.89 L146.60,123.64 L147.60,123.39 L148.60,123.13 L149.60,122.87 L150.60,122.61 L151.60,122.34 L152.60,122.07 L153.60,121.80 L154.60,121.52 L155.60,121.24 L156.60,120.96 L157.60,120.67 L158.60,120.39 L159.60,120.10 L160.60,119.80 L161.60,119.51 L162.60,119.21 L163.60,118.91 L164.60,118.61 L165.60,118.31 L166.60,118.00 L167.60,117.70 L168.60,117.39 L169.60,117.08 L170.60,116.77 L171.60,116.46 L172.60,116.15 L173.60,115.83 L174.60,115.52 L175.60,115.21 L176.60,114.89 L177.60,114.58 L178.60,114.26 L179.60,113.95 L180.60,113.64 L181.60,113.32 L182.60,113.01 L183.60,112.70 L184.60,112.39 L185.60,112.08 L186.60,111.78 L187.60,111.47 L188.60,111.17 L189.60,110.87 L190.60,110.57 L191.60,110.27 L192.60,109.98 L193.60,109.69 L194.60,109.40 L195.60,109.12 L196.60,108.84 L197.60,108.56 L198.60,108.29 L199.60,108.02 L200.60,107.76 L201.60,107.50 L202.60,107.24 L203.60,106.99 L204.60,106.75 L205.60,106.51 L206.60,106.28 L207.60,106.05 L208.60,105.82 L209.60,105.61 L210.60,105.40 L211.60,105.19 L212.60,104.99 L213.60,104.80 L214.60,104.61 L215.60,104.44 L216.60,104.26 L217.60,104.10 L218.60,103.94 L219.60,103.79 L220.60,103.65 L221.60,103.52 L222.60,103.39 L223.60,103.27 L224.60,103.16 L225.60,103.06 L226.60,102.96 L227.60,102.87 L228.60,102.80 L229.60,102.72 L230.60,102.66 L231.60,102.61 L232.60,102.56 L233.60,102.53 L234.60,102.50 L235.60,102.48 L236.60,102.47 L237.60,102.46 L238.60,102.47 L239.60,102.49 L240.60,102.51 L241.60,102.54 L242.60,102.58 L243.60,102.63 L244.60,102.69 L245.60,102.75 L246.60,102.82 L247.60,102.91 L248.60,103.00 L249.60,103.09 L250.60,103.20 L251.60,103.32 L252.60,103.44 L253.60,103.57 L254.60,103.70 L255.60,103.85 L256.60,104.00 L257.60,104.16 L258.60,104.33 L259.60,104.50 L260.60,104.68 L261.60,104.87 L262.60,105.07 L263.60,105.27 L264.60,105.48 L265.60,105.69 L266.60,105.91 L267.60,106.13 L268.60,106.36 L269.60,106.60 L270.60,106.84 L271.60,107.09 L272.60,107.34 L273.60,107.60 L274.60,107.86 L275.60,108.13 L276.60,108.40 L277.60,108.67 L278.60,108.95 L279.60,109.23 L280.60,109.51 L281.60,109.80 L282.60,110.09 L283.60,110.39 L284.60,110.68 L285.60,110.98 L286.60,111.29 L287.60,111.59 L288.60,111.89 L289.60,112.20 L290.60,112.51 L291.60,112.82 L292.60,113.13 L293.60,113.44 M295.60,114.07 L296.60,114.38 L297.60,114.70 L298.60,115.01 L299.60,115.33 L300.60,115.64 L301.60,115.95 L302.60,116.27 L303.60,116.58 L304.60,116.89 L305.60,117.20 L306.60,117.51 L307.60,117.81 L308.60,118.12 L309.60,118.42 L310.60,118.73 L311.60,119.03 L312.60,119.33 L313.60,119.62 L314.60,119.92 L315.60,120.21 L316.60,120.50 L317.60,120.78 L318.60,121.07 L319.60,121.35 L320.60,121.63 L321.60,121.90 L322.60,122.17 L323.60,122.44 L324.60,122.71 L325.60,122.97 L326.60,123.23 L327.60,123.49 L328.60,123.74 L329.60,123.99 L330.60,124.23 L331.60,124.47 L332.60,124.71 L333.60,124.95 L334.60,125.18 L335.60,125.40 L336.60,125.63 L337.60,125.85 L338.60,126.06 L339.60,126.28 L340.60,126.48 L341.60,126.69 L342.60,126.89 L343.60,127.09 L344.60,127.28 L345.60,127.47 L346.60,127.65 L347.60,127.83 L348.60,128.01 L349.60,128.19 L350.60,128.36 L351.60,128.52 L352.60,128.69 L353.60,128.84 L354.60,129.00 L355.60,129.15 L356.60,129.30 L357.60,129.44 L358.60,129.59 L359.60,129.72 L360.60,129.86 L361.60,129.99 L362.60,130.12 L363.60,130.24 L364.60,130.36 L365.60,130.48 L366.60,130.59 L367.60,130.71 L368.60,130.82 L369.60,130.92 L370.60,131.02 L371.60,131.12 L372.60,131.22 L373.60,131.31 L374.60,131.40 L375.60,131.49 L376.60,131.58 L377.60,131.66 L378.60,131.74 L379.60,131.82 L380.60,131.90 L381.60,131.97 L382.60,132.04 L383.60,132.11 L384.60,132.18 L385.60,132.24 L386.60,132.30 L387.60,132.36 L388.60,132.42 L389.60,132.48 L390.60,132.53 L391.60,132.58 L392.60,132.63 L393.60,132.68 L394.60,132.73 L395.60,132.77 L396.60,132.82 L397.60,132.86 L398.60,132.90 L399.60,132.94 L400.60,132.98 L401.60,133.01 L402.60,133.05 L403.60,133.08 L404.60,133.11 L405.60,133.14 L406.60,133.17 L407.60,133.20 L408.60,133.23 L409.60,133.25 L410.60,133.28 L411.60,133.30 L412.60,133.33 L413.60,133.35 L414.60,133.37 L415.60,133.39 L416.60,133.41 L417.60,133.43 L418.60,133.45 L419.60,133.46 L420.60,133.48 L421.60,133.50 L422.60,133.51 L423.60,133.53 L424.60,133.54 L425.60,133.55 L426.60,133.56 L427.60,133.58 L428.60,133.59 L429.60,133.60 L430.60,133.61 L431.60,133.62 L432.60,133.63 L433.60,133.64 L434.60,133.65 L435.60,133.65 L436.60,133.66 L437.60,133.67 L438.60,133.68 L439.60,133.68 L440.60,133.69 L441.60,133.69 L442.60,133.70 L443.60,133.71 L444.60,133.71 L445.60,133.72 L446.60,133.72 L447.60,133.73 L448.60,133.73 L449.60,133.73 L450.60,133.74 L451.60,133.74 L452.60,133.74 L453.60,133.75 L454.60,133.75 L455.60,133.75 L456.60,133.76 L457.60,133.76 L458.60,133.76 L459.60,133.76 L460.60,133.77 L461.60,133.77 L462.60,133.77 L463.60,133.77 L464.60,133.77 L465.60,133.77 L466.60,133.78 L467.60,133.78 L468.60,133.78 L469.60,133.78 L470.60,133.78 L471.60,133.78 L472.60,133.78 L473.60,133.78 L474.60,133.79 L475.60,133.79 L476.60,133.79 L477.60,133.79 L478.60,133.79 L479.60,133.79 L480.60,133.79 L481.60,133.79 L482.60,133.79 L483.60,133.79 L484.60,133.79 L485.60,133.79 L486.60,133.79 L487.60,133.79 L488.60,133.79 L489.60,133.79 L490.60,133.80 L491.60,133.80 L492.60,133.80 L493.60,133.80 L494.60,133.80 L495.60,133.80 L496.60,133.80 L497.60,133.80 L498.60,133.80 L499.60,133.80 L500.60,133.80 L501.60,133.80 L502.60,133.80 L503.60,133.80 L504.60,133.80 L505.60,133.80 L506.60,133.80 L507.60,133.80 L508.60,133.80 L509.60,133.80 L510.60,133.80 L511.60,133.80 L512.60,133.80 L513.60,133.80 L514.60,133.80 L515.60,133.80 L516.60,133.80 L517.60,133.80 L518.60,133.80 L519.60,133.80 L520.60,133.80 L521.60,133.80 L522.60,133.80 L523.60,133.80 L524.60,133.80 L525.60,133.80 L526.60,133.80 L527.60,133.80 L528.60,133.80 L529.60,133.80 L530.60,133.80 L531.60,133.80 L532.60,133.80 L533.60,133.80 L534.60,133.80 L535.60,133.80 L536.60,133.80 L537.60,133.80 L538.60,133.80 L539.60,133.80 L540.60,133.80 L541.60,133.80 L542.60,133.80 L543.60,133.80 L544.60,133.80 L545.60,133.80 L546.60,133.80 L547.60,133.80 L548.60,133.80 L549.60,133.80 L550.60,133.80 L551.60,133.80 L552.60,133.80 L553.60,133.80 L554.60,133.80 L555.60,133.80 L556.60,133.80 L557.60,133.80 L558.60,133.80 L559.60,133.80 L560.60,133.80 L561.60,133.80 L562.60,133.80 L563.60,133.80 L564.60,133.80 L565.60,133.80 L566.60,133.80 L567.60,133.80 L568.60,133.80 L569.60,133.80 L570.60,133.80 L571.60,133.80 L572.60,133.80 L573.60,133.80 L574.60,133.80 L575.60,133.80 L576.60,133.80 L577.60,133.80 L578.60,133.80 L579.60,133.80 L580.60,133.80 L581.60,133.80 L582.60,133.80 L583.60,133.80 L584.60,133.80 L585.60,133.80 L586.60,133.80 L587.60,133.80 L588.60,133.80 L589.60,133.80 L590.60,133.80 L591.60,133.80 L592.60,133.80 L593.60,133.80 L594.60,133.80 L595.60,133.80 L596.60,133.80 L597.60,133.80 L598.60,133.80 L599.60,133.80 L600.60,133.80 L601.60,133.80 L602.60,133.80 L603.60,133.80 L604.60,133.80 L605.60,133.80 L606.60,133.80 L607.60,133.80 L608.60,133.80 L609.60,133.80 L610.60,133.80 L611.60,133.80 L612.60,133.80 L613.60,133.80 L614.60,133.80 L615.60,133.80 L616.60,133.80 L617.60,133.80 L618.60,133.80 L619.60,133.80 L620.60,133.80 L621.60,133.80 L622.60,133.80 L623.60,133.80 L624.60,133.80 L625.60,133.80 L626.60,133.80 L627.60,133.80 L628.60,133.80" fill="none" stroke="#0000ff" stroke-width="2.0" stroke-linejoin="round"/>
<path d="M69.60,133.02 L71.60,132.98 L73.60,132.93 L75.60,132.89 L77.60,132.84 L79.60,132.79 L81.60,132.74 L83.60,132.69 L85.60,132.63 L87.60,132.58 L89.60,132.52 L91.60,132.45 L93.60,132.39 L95.60,132.32 L97.60,132.25 L99.60,132.18 L101.60,132.11 L103.60,132.03 L105.60,131.95 L107.60,131.86 L109.60,131.78 L111.60,131.69 L113.60,131.60 L115.60,131.50 L117.60,131.40 L119.60,131.30 L121.60,131.20 L123.60,131.09 L125.60,130.98 L127.60,130.86 L129.60,130.74 L131.60,130.62 L133.60,130.49 L135.60,130.36 L137.60,130.23 L139.60,130.09 L141.60,129.95 L143.60,129.81 L145.60,129.66 L147.60,129.51 L149.60,129.36 L151.60,129.20 L153.60,129.03 L155.60,128.87 L157.60,128.70 L159.60,128.52 L161.60,128.35 L163.60,128.16 L165.60,127.98 L167.60,127.79 L169.60,127.60 L171.60,127.40 L173.60,127.20 L175.60,127.00 L177.60,126.79 L179.60,126.58 L181.60,126.37 L183.60,126.15 L185.60,125.93 L187.60,125.71 L189.60,125.48 L191.60,125.26 L193.60,125.03 L195.60,124.79 L197.60,124.56 L199.60,124.32 L201.60,124.08 L203.60,123.83 L205.60,123.59 L207.60,123.34 L209.60,123.09 L211.60,122.84 L213.60,122.59 L215.60,122.34 L217.60,122.09 L219.60,121.83 L221.60,121.58 L223.60,121.32 L225.60,121.07 L227.60,120.81 L229.60,120.56 L231.60,120.31 L233.60,120.05 L235.60,119.80 L237.60,119.55 L239.60,119.30 L241.60,119.05 L243.60,118.80 L245.60,118.56 L247.60,118.31 L249.60,118.07 L251.60,117.84 L253.60,117.60 L255.60,117.37 L257.60,117.14 L259.60,116.92 L261.60,116.70 L263.60,116.48 L265.60,116.27 L267.60,116.06 L269.60,115.86 L271.60,115.66 L273.60,115.47 L275.60,115.28 L277.60,115.10 L279.60,114.92 L281.60,114.76 L283.60,114.59 L285.60,114.44 L287.60,114.28 L289.60,114.14 L291.60,114.00 L293.60,113.88 L295.60,113.75 L297.60,113.64 L299.60,113.53 L301.60,113.43 L303.60,113.34 L305.60,113.26 L307.60,113.18 L309.60,113.11 L311.60,113.05 L313.60,113.00 L315.60,112.96 L317.60,112.92 L319.60,112.89 L321.60,112.88 L323.60,112.87 L325.60,112.87 L327.60,112.87 L329.60,112.89 L331.60,112.91 L333.60,112.94 L335.60,112.98 L337.60,113.03 L339.60,113.09 L341.60,113.16 L343.60,113.23 L345.60,113.31 L347.60,113.40 L349.60,113.50 L351.60,113.60 L353.60,113.71 L355.60,113.83 L357.60,113.96 L359.60,114.10 L361.60,114.24 L363.60,114.39 L365.60,114.54 L367.60,114.70 L369.60,114.87 L371.60,115.04 L373.60,115.22 L375.60,115.41 L377.60,115.60 L379.60,115.79 L381.60,115.99 L383.60,116.20 L385.60,116.41 L387.60,116.63 L389.60,116.85 L391.60,117.07 L393.60,117.30 L395.60,117.53 L397.60,117.76 L399.60,118.00 L401.60,118.24 L403.60,118.48 L405.60,118.72 L407.60,118.97 L409.60,119.22 L411.60,119.47 L413.60,119.72 L415.60,119.97 L417.60,120.22 L419.60,120.48 L421.60,120.73 L423.60,120.99 L425.60,121.24 L427.60,121.50 L429.60,121.75 L431.60,122.00 L433.60,122.26 L435.60,122.51 L437.60,122.76 L439.60,123.01 L441.60,123.26 L443.60,123.51 L445.60,123.75 L447.60,124.00 L449.60,124.24 L451.60,124.48 L453.60,124.71 L455.60,124.95 L457.60,125.18 L459.60,125.41 L461.60,125.64 L463.60,125.86 L465.60,126.08 L467.60,126.30 L469.60,126.51 L471.60,126.72 L473.60,126.93 L475.60,127.14 L477.60,127.34 L479.60,127.53 L481.60,127.73 L483.60,127.92 L485.60,128.10 L487.60,128.29 L489.60,128.47 L491.60,128.64 L493.60,128.81 L495.60,128.98 L497.60,129.14 L499.60,129.30 L501.60,129.46 L503.60,129.61 L505.60,129.76 L507.60,129.91 L509.60,130.05 L511.60,130.19 L513.60,130.32 L515.60,130.45 L517.60,130.58 L519.60,130.70 L521.60,130.82 L523.60,130.94 L525.60,131.05 L527.60,131.16 L529.60,131.27 L531.60,131.37 L533.60,131.47 L535.60,131.57 L537.60,131.66 L539.60,131.75 L541.60,131.84 L543.60,131.92 L545.60,132.00 L547.60,132.08 L549.60,132.16 L551.60,132.23 L553.60,132.30 L555.60,132.37 L557.60,132.43 L559.60,132.50 L561.60,132.56 L563.60,132.62 L565.60,132.67 L567.60,132.73 L569.60,132.78 L571.60,132.83 L573.60,132.87 L575.60,132.92 L577.60,132.96 L579.60,133.00 L581.60,133.04 L583.60,133.08 L585.60,133.12 L587.60,133.15 L589.60,133.19 L591.60,133.22 L593.60,133.25 L595.60,133.28 L597.60,133.31 L599.60,133.33 L601.60,133.36 L603.60,133.38 L605.60,133.41 L607.60,133.43 L609.60,133.45 L611.60,133.47 L613.60,133.49 L615.60,133.50 L617.60,133.52 L619.60,133.54 L621.60,133.55 L623.60,133.57 L625.60,133.58 L627.60,133.59 L629.60,133.61 L631.60,133.62 L633.60,133.63 L635.60,133.64 L637.60,133.65 L639.60,133.66 L641.60,133.67 L643.60,133.67 L645.60,133.68 L647.60,133.69 L649.60,133.70 L651.60,133.70 L653.60,133.71 L655.60,133.72 L657.60,133.72 L659.60,133.73 L661.60,133.73 L663.60,133.74 L665.60,133.74 L667.60,133.74 L669.60,133.75 L671.60,133.75 L673.60,133.75 L675.60,133.76 L677.60,133.76 L679.60,133.76 L681.50,133.77" fill="none" stroke="#ff0000" stroke-width="2.0" stroke-linejoin="round"/>
<text x="57.6" y="137.45" font-size="10.2" text-anchor="middle">0</text>
<text x="58.9" y="122.55" font-size="10.2" text-anchor="middle">100</text>
<text x="59.2" y="108.05" font-size="10.2" text-anchor="middle">200</text>
<text x="26.2" y="119.70" font-size="13.8">D2</text>
<line x1="151.19" y1="146.60" x2="151.19" y2="177.60" stroke="#ebebeb" stroke-width="1"/>
<line x1="232.77" y1="146.60" x2="232.77" y2="177.60" stroke="#ebebeb" stroke-width="1"/>
<line x1="314.36" y1="146.60" x2="314.36" y2="177.60" stroke="#ebebeb" stroke-width="1"/>
<line x1="395.94" y1="146.60" x2="395.94" y2="177.60" stroke="#ebebeb" stroke-width="1"/>
<line x1="477.53" y1="146.60" x2="477.53" y2="177.60" stroke="#ebebeb" stroke-width="1"/>
<line x1="681.50" y1="146.60" x2="681.50" y2="177.60" stroke="#ebebeb" stroke-width="1"/>
<line x1="69.6" y1="164.10" x2="681.50" y2="164.10" stroke="#ebebeb" stroke-width="1"/>
<line x1="69.6" y1="150.60" x2="681.50" y2="150.60" stroke="#ebebeb" stroke-width="1"/>
<line x1="69.6" y1="146.60" x2="69.6" y2="177.60" stroke="#8c8c8c" stroke-width="1"/>
<line x1="69.6" y1="177.60" x2="76.1" y2="177.60" stroke="#8c8c8c" stroke-width="1"/>
<line x1="69.6" y1="164.10" x2="76.1" y2="164.10" stroke="#8c8c8c" stroke-width="1"/>
<line x1="69.6" y1="150.60" x2="76.1" y2="150.60" stroke="#8c8c8c" stroke-width="1"/>
<line x1="151.19" y1="170.60" x2="151.19" y2="177.60" stroke="#8c8c8c" stroke-width="1"/>
<line x1="232.77" y1="170.60" x2="232.77" y2="177.60" stroke="#8c8c8c" stroke-width="1"/>
<line x1="314.36" y1="170.60" x2="314.36" y2="177.60" stroke="#8c8c8c" stroke-width="1"/>
<line x1="395.94" y1="170.60" x2="395.94" y2="177.60" stroke="#8c8c8c" stroke-width="1"/>
<line x1="477.53" y1="170.60" x2="477.53" y2="177.60" stroke="#8c8c8c" stroke-width="1"/>
<line x1="681.50" y1="170.60" x2="681.50" y2="177.60" stroke="#8c8c8c" stroke-width="1"/>
<rect x="151.19" y="166.89" width="40.79" height="10.71" fill="#0000ff" fill-opacity="0.5"/>
<rect x="191.98" y="151.60" width="40.79" height="26.00" fill="#0000ff" fill-opacity="0.5"/>
<rect x="232.77" y="146.60" width="40.79" height="31.00" fill="#0000ff" fill-opacity="0.5"/>
<rect x="273.57" y="159.50" width="40.79" height="18.10" fill="#0000ff" fill-opacity="0.5"/>
<rect x="314.36" y="170.00" width="40.79" height="7.60" fill="#0000ff" fill-opacity="0.5"/>
<rect x="355.15" y="175.94" width="40.79" height="1.66" fill="#0000ff" fill-opacity="0.5"/>
<rect x="151.19" y="175.67" width="40.79" height="1.93" fill="#ff0000" fill-opacity="0.5"/>
<rect x="191.98" y="174.34" width="40.79" height="3.26" fill="#ff0000" fill-opacity="0.5"/>
<rect x="232.77" y="169.55" width="40.79" height="8.05" fill="#ff0000" fill-opacity="0.5"/>
<rect x="273.57" y="162.80" width="40.79" height="14.80" fill="#ff0000" fill-opacity="0.5"/>
<rect x="314.36" y="163.03" width="40.79" height="14.56" fill="#ff0000" fill-opacity="0.5"/>
<rect x="355.15" y="162.10" width="40.79" height="15.50" fill="#ff0000" fill-opacity="0.5"/>
<rect x="395.94" y="162.37" width="40.79" height="15.23" fill="#ff0000" fill-opacity="0.5"/>
<rect x="436.74" y="168.00" width="40.79" height="9.60" fill="#ff0000" fill-opacity="0.5"/>
<rect x="477.53" y="169.20" width="40.79" height="8.40" fill="#ff0000" fill-opacity="0.5"/>
<rect x="518.32" y="171.80" width="40.79" height="5.80" fill="#ff0000" fill-opacity="0.5"/>
<rect x="559.12" y="175.67" width="40.79" height="1.93" fill="#ff0000" fill-opacity="0.5"/>
<path d="M78.60,176.95 L79.60,176.92 L80.60,176.89 L81.60,176.85 L82.60,176.81 L83.60,176.77 L84.60,176.73 L85.60,176.69 L86.60,176.65 L87.60,176.60 L88.60,176.55 L89.60,176.50 L90.60,176.45 L91.60,176.40 L92.60,176.34 L93.60,176.28 L94.60,176.22 L95.60,176.16 L96.60,176.09 L97.60,176.03 L98.60,175.96 L99.60,175.88 L100.60,175.81 L101.60,175.73 L102.60,175.65 L103.60,175.57 L104.60,175.48 L105.60,175.39 L106.60,175.30 L107.60,175.20 L108.60,175.10 L109.60,175.00 L110.60,174.89 L111.60,174.79 L112.60,174.67 L113.60,174.56 L114.60,174.44 L115.60,174.31 L116.60,174.19 L117.60,174.06 L118.60,173.92 L119.60,173.79 L120.60,173.64 L121.60,173.50 L122.60,173.35 L123.60,173.19 L124.60,173.04 L125.60,172.87 L126.60,172.71 L127.60,172.54 L128.60,172.36 L129.60,172.18 L130.60,172.00 L131.60,171.81 L132.60,171.62 L133.60,171.42 L134.60,171.22 L135.60,171.02 L136.60,170.81 L137.60,170.59 L138.60,170.37 L139.60,170.15 L140.60,169.92 L141.60,169.69 L142.60,169.46 L143.60,169.22 L144.60,168.97 L145.60,168.72 L146.60,168.47 L147.60,168.21 L148.60,167.95 L149.60,167.68 L150.60,167.41 L151.60,167.14 L152.60,166.86 L153.60,166.58 L154.60,166.30 L155.60,166.01 L156.60,165.72 L157.60,165.42 L158.60,165.12 L159.60,164.82 L160.60,164.51 L161.60,164.20 L162.60,163.89 L163.60,163.58 L164.60,163.26 L165.60,162.94 L166.60,162.62 L167.60,162.30 L168.60,161.98 L169.60,161.65 L170.60,161.32 L171.60,160.99 L172.60,160.66 L173.60,160.33 L174.60,159.99 L175.60,159.66 L176.60,159.33 L177.60,158.99 L178.60,158.66 L179.60,158.33 L180.60,157.99 L181.60,157.66 L182.60,157.33 L183.60,157.00 L184.60,156.67 L185.60,156.34 L186.60,156.01 L187.60,155.69 L188.60,155.37 L189.60,155.05 L190.60,154.73 L191.60,154.42 L192.60,154.11 L193.60,153.81 L194.60,153.50 L195.60,153.20 L196.60,152.91 L197.60,152.62 L198.60,152.34 L199.60,152.06 L200.60,151.78 L201.60,151.51 L202.60,151.25 L203.60,150.99 L204.60,150.74 L205.60,150.50 L206.60,150.26 L207.60,150.03 L208.60,149.80 L209.60,149.59 L210.60,149.38 L211.60,149.17 L212.60,148.98 L213.60,148.79 L214.60,148.62 L215.60,148.45 L216.60,148.28 L217.60,148.13 L218.60,147.99 L219.60,147.85 L220.60,147.73 L221.60,147.61 L222.60,147.50 L223.60,147.40 L224.60,147.32 L225.60,147.24 L226.60,147.17 L227.60,147.11 L228.60,147.06 L229.60,147.02 L230.60,146.99 L231.60,146.97 L232.60,146.96 L233.60,146.95 L234.60,146.96 L235.60,146.98 L236.60,147.01 L237.60,147.05 L238.60,147.10 L239.60,147.16 L240.60,147.23 L241.60,147.30 L242.60,147.39 L243.60,147.49 L244.60,147.59 L245.60,147.71 L246.60,147.83 L247.60,147.97 L248.60,148.11 L249.60,148.26 L250.60,148.42 L251.60,148.59 L252.60,148.77 L253.60,148.95 L254.60,149.14 L255.60,149.34 L256.60,149.55 L257.60,149.77 L258.60,149.99 L259.60,150.22 L260.60,150.46 L261.60,150.70 L262.60,150.95 L263.60,151.21 L264.60,151.47 L265.60,151.74 L266.60,152.01 L267.60,152.29 L268.60,152.58 L269.60,152.86 L270.60,153.16 L271.60,153.46 L272.60,153.76 L273.60,154.06 L274.60,154.37 L275.60,154.68 L276.60,155.00 L277.60,155.32 L278.60,155.64 L279.60,155.96 L280.60,156.29 L281.60,156.62 L282.60,156.94 L283.60,157.27 L284.60,157.61 L285.60,157.94 L286.60,158.27 L287.60,158.61 L288.60,158.94 L289.60,159.27 L290.60,159.61 L291.60,159.94 L292.60,160.27 L293.60,160.61 L294.60,160.94 L295.60,161.27 L296.60,161.60 L297.60,161.92 L298.60,162.25 L299.60,162.57 L300.60,162.89 L301.60,163.21 L302.60,163.53 L303.60,163.84 L304.60,164.16 L305.60,164.46 M307.60,165.07 L308.60,165.37 L309.60,165.67 L310.60,165.96 L311.60,166.25 L312.60,166.54 L313.60,166.82 L314.60,167.10 L315.60,167.37 L316.60,167.64 L317.60,167.91 L318.60,168.17 L319.60,168.43 L320.60,168.68 L321.60,168.93 L322.60,169.18 L323.60,169.42 L324.60,169.66 L325.60,169.89 L326.60,170.12 L327.60,170.34 L328.60,170.56 L329.60,170.77 L330.60,170.98 L331.60,171.19 L332.60,171.39 L333.60,171.59 L334.60,171.78 L335.60,171.97 L336.60,172.15 L337.60,172.33 L338.60,172.51 L339.60,172.68 L340.60,172.85 L341.60,173.01 L342.60,173.17 L343.60,173.32 L344.60,173.47 L345.60,173.62 L346.60,173.76 L347.60,173.90 L348.60,174.04 L349.60,174.17 L350.60,174.30 L351.60,174.42 L352.60,174.54 L353.60,174.65 L354.60,174.77 L355.60,174.88 L356.60,174.98 L357.60,175.09 L358.60,175.19 L359.60,175.28 L360.60,175.37 L361.60,175.46 L362.60,175.55 L363.60,175.64 L364.60,175.72 L365.60,175.80 L366.60,175.87 L367.60,175.94 L368.60,176.02 L369.60,176.08 L370.60,176.15 L371.60,176.21 L372.60,176.27 L373.60,176.33 L374.60,176.39 L375.60,176.44 L376.60,176.49 L377.60,176.55 L378.60,176.59 L379.60,176.64 L380.60,176.68 L381.60,176.73 L382.60,176.77 L383.60,176.81 L384.60,176.85 L385.60,176.88 L386.60,176.92 L387.60,176.95 L388.60,176.98 L389.60,177.01 L390.60,177.04 L391.60,177.07 L392.60,177.09 L393.60,177.12 L394.60,177.14 L395.60,177.17 L396.60,177.19 L397.60,177.21 L398.60,177.23 L399.60,177.25 L400.60,177.27 L401.60,177.29 L402.60,177.30 L403.60,177.32 L404.60,177.33 L405.60,177.35 L406.60,177.36 L407.60,177.37 L408.60,177.39 L409.60,177.40 L410.60,177.41 L411.60,177.42 L412.60,177.43 L413.60,177.44 L414.60,177.45 L415.60,177.46 L416.60,177.47 L417.60,177.47 L418.60,177.48 L419.60,177.49 L420.60,177.49 L421.60,177.50 L422.60,177.51 L423.60,177.51 L424.60,177.52 L425.60,177.52 L426.60,177.53 L427.60,177.53 L428.60,177.54 L429.60,177.54 L430.60,177.54 L431.60,177.55 L432.60,177.55 L433.60,177.55 L434.60,177.56 L435.60,177.56 L436.60,177.56 L437.60,177.56 L438.60,177.57 L439.60,177.57 L440.60,177.57 L441.60,177.57 L442.60,177.57 L443.60,177.58 L444.60,177.58 L445.60,177.58 L446.60,177.58 L447.60,177.58 L448.60,177.58 L449.60,177.58 L450.60,177.59 L451.60,177.59 L452.60,177.59 L453.60,177.59 L454.60,177.59 L455.60,177.59 L456.60,177.59 L457.60,177.59 L458.60,177.59 L459.60,177.59 L460.60,177.59 L461.60,177.59 L462.60,177.59 L463.60,177.59 L464.60,177.59 L465.60,177.60 L466.60,177.60 L467.60,177.60 L468.60,177.60 L469.60,177.60 L470.60,177.60 L471.60,177.60 L472.60,177.60 L473.60,177.60 L474.60,177.60 L475.60,177.60 L476.60,177.60 L477.60,177.60 L478.60,177.60 L479.60,177.60 L480.60,177.60 L481.60,177.60 L482.60,177.60 L483.60,177.60 L484.60,177.60 L485.60,177.60 L486.60,177.60 L487.60,177.60 L488.60,177.60 L489.60,177.60 L490.60,177.60 L491.60,177.60 L492.60,177.60 L493.60,177.60 L494.60,177.60 L495.60,177.60 L496.60,177.60 L497.60,177.60 L498.60,177.60 L499.60,177.60 L500.60,177.60 L501.60,177.60 L502.60,177.60 L503.60,177.60 L504.60,177.60 L505.60,177.60 L506.60,177.60 L507.60,177.60 L508.60,177.60 L509.60,177.60 L510.60,177.60 L511.60,177.60 L512.60,177.60 L513.60,177.60 L514.60,177.60 L515.60,177.60 L516.60,177.60 L517.60,177.60 L518.60,177.60 L519.60,177.60 L520.60,177.60 L521.60,177.60 L522.60,177.60 L523.60,177.60 L524.60,177.60 L525.60,177.60 L526.60,177.60 L527.60,177.60 L528.60,177.60 L529.60,177.60 L530.60,177.60 L531.60,177.60 L532.60,177.60 L533.60,177.60 L534.60,177.60 L535.60,177.60 L536.60,177.60 L537.60,177.60 L538.60,177.60 L539.60,177.60 L540.60,177.60 L541.60,177.60 L542.60,177.60 L543.60,177.60 L544.60,177.60 L545.60,177.60 L546.60,177.60 L547.60,177.60 L548.60,177.60 L549.60,177.60 L550.60,177.60 L551.60,177.60 L552.60,177.60 L553.60,177.60 L554.60,177.60 L555.60,177.60 L556.60,177.60 L557.60,177.60 L558.60,177.60 L559.60,177.60 L560.60,177.60 L561.60,177.60 L562.60,177.60 L563.60,177.60 L564.60,177.60 L565.60,177.60 L566.60,177.60 L567.60,177.60 L568.60,177.60 L569.60,177.60 L570.60,177.60 L571.60,177.60 L572.60,177.60 L573.60,177.60 L574.60,177.60 L575.60,177.60 L576.60,177.60 L577.60,177.60 L578.60,177.60 L579.60,177.60 L580.60,177.60 L581.60,177.60 L582.60,177.60 L583.60,177.60 L584.60,177.60 L585.60,177.60 L586.60,177.60 L587.60,177.60 L588.60,177.60 L589.60,177.60 L590.60,177.60 L591.60,177.60 L592.60,177.60 L593.60,177.60 L594.60,177.60 L595.60,177.60 L596.60,177.60 L597.60,177.60 L598.60,177.60 L599.60,177.60 L600.60,177.60 L601.60,177.60 L602.60,177.60 L603.60,177.60 L604.60,177.60 L605.60,177.60 L606.60,177.60 L607.60,177.60 L608.60,177.60 L609.60,177.60 L610.60,177.60 L611.60,177.60 L612.60,177.60 L613.60,177.60 L614.60,177.60 L615.60,177.60 L616.60,177.60 L617.60,177.60 L618.60,177.60 L619.60,177.60 L620.60,177.60 L621.60,177.60 L622.60,177.60 L623.60,177.60 L624.60,177.60 L625.60,177.60 L626.60,177.60 L627.60,177.60 L628.60,177.60 L629.60,177.60 L630.60,177.60 L631.60,177.60 L632.60,177.60 L633.60,177.60 L634.60,177.60 L635.60,177.60 L636.60,177.60 L637.60,177.60 L638.60,177.60 L639.60,177.60 L640.60,177.60 L641.60,177.60 L642.60,177.60 L643.60,177.60 L644.60,177.60 L645.60,177.60 L646.60,177.60 L647.60,177.60 L648.60,177.60 L649.60,177.60 L650.60,177.60 L651.60,177.60 L652.60,177.60 L653.60,177.60 L654.60,177.60 L655.60,177.60 L656.60,177.60 L657.60,177.60 L658.60,177.60 L659.60,177.60 L660.60,177.60 L661.60,177.60 L662.60,177.60 L663.60,177.60 L664.60,177.60 L665.60,177.60 L666.60,177.60 L667.60,177.60 L668.60,177.60 L669.60,177.60 L670.60,177.60 L671.60,177.60 L672.60,177.60 L673.60,177.60 L674.60,177.60 L675.60,177.60 L676.60,177.60 L677.60,177.60 L678.60,177.60 L679.60,177.60 L680.60,177.60 L681.50,177.60" fill="none" stroke="#0000ff" stroke-width="2.0" stroke-linejoin="round"/>
<path d="M69.60,177.24 L71.60,177.23 L73.60,177.21 L75.60,177.19 L77.60,177.17 L79.60,177.15 L81.60,177.12 L83.60,177.10 L85.60,177.08 L87.60,177.05 L89.60,177.03 L91.60,177.00 L93.60,176.97 L95.60,176.94 L97.60,176.91 L99.60,176.88 L101.60,176.85 L103.60,176.82 L105.60,176.78 L107.60,176.74 L109.60,176.71 L111.60,176.67 L113.60,176.63 L115.60,176.59 L117.60,176.54 L119.60,176.50 L121.60,176.45 L123.60,176.40 L125.60,176.36 L127.60,176.30 L129.60,176.25 L131.60,176.20 L133.60,176.14 L135.60,176.08 L137.60,176.03 L139.60,175.96 L141.60,175.90 L143.60,175.84 L145.60,175.77 L147.60,175.70 L149.60,175.63 L151.60,175.56 L153.60,175.48 L155.60,175.41 L157.60,175.33 L159.60,175.25 L161.60,175.16 L163.60,175.08 L165.60,174.99 L167.60,174.90 L169.60,174.81 L171.60,174.72 L173.60,174.62 L175.60,174.52 L177.60,174.42 L179.60,174.32 L181.60,174.22 L183.60,174.11 L185.60,174.00 L187.60,173.89 L189.60,173.77 L191.60,173.66 L193.60,173.54 L195.60,173.42 L197.60,173.30 L199.60,173.17 L201.60,173.05 L203.60,172.92 L205.60,172.79 L207.60,172.65 L209.60,172.52 L211.60,172.38 L213.60,172.24 L215.60,172.10 L217.60,171.96 L219.60,171.81 L221.60,171.66 L223.60,171.52 L225.60,171.36 L227.60,171.21 L229.60,171.06 L231.60,170.90 L233.60,170.75 L235.60,170.59 L237.60,170.43 L239.60,170.27 L241.60,170.10 L243.60,169.94 L245.60,169.78 L247.60,169.61 L249.60,169.44 L251.60,169.28 L253.60,169.11 L255.60,168.94 L257.60,168.77 L259.60,168.60 L261.60,168.43 L263.60,168.26 L265.60,168.09 L267.60,167.92 L269.60,167.75 L271.60,167.58 L273.60,167.41 L275.60,167.24 L277.60,167.07 L279.60,166.90 L281.60,166.73 L283.60,166.57 L285.60,166.40 L287.60,166.24 L289.60,166.07 L291.60,165.91 L293.60,165.75 L295.60,165.59 L297.60,165.44 L299.60,165.28 L301.60,165.13 L303.60,164.98 L305.60,164.83 L307.60,164.68 L309.60,164.54 L311.60,164.39 L313.60,164.26 L315.60,164.12 L317.60,163.99 L319.60,163.86 L321.60,163.73 L323.60,163.61 L325.60,163.49 L327.60,163.37 L329.60,163.26 L331.60,163.15 L333.60,163.04 L335.60,162.94 L337.60,162.84 L339.60,162.75 L341.60,162.66 L343.60,162.57 L345.60,162.49 L347.60,162.41 L349.60,162.34 L351.60,162.27 L353.60,162.21 L355.60,162.15 L357.60,162.10 L359.60,162.05 L361.60,162.01 L363.60,161.97 L365.60,161.93 L367.60,161.90 L369.60,161.88 L371.60,161.86 L373.60,161.84 L375.60,161.83 L377.60,161.83 L379.60,161.83 L381.60,161.83 L383.60,161.84 L385.60,161.86 L387.60,161.88 L389.60,161.91 L391.60,161.94 L393.60,161.97 L395.60,162.01 L397.60,162.06 L399.60,162.11 L401.60,162.16 L403.60,162.22 L405.60,162.28 L407.60,162.35 L409.60,162.42 L411.60,162.50 L413.60,162.58 L415.60,162.67 L417.60,162.76 L419.60,162.85 L421.60,162.95 L423.60,163.05 L425.60,163.16 L427.60,163.27 L429.60,163.38 L431.60,163.50 L433.60,163.62 L435.60,163.75 L437.60,163.87 L439.60,164.00 L441.60,164.14 L443.60,164.27 L445.60,164.41 L447.60,164.55 L449.60,164.70 L451.60,164.85 L453.60,165.00 L455.60,165.15 L457.60,165.30 L459.60,165.46 L461.60,165.61 L463.60,165.77 L465.60,165.93 L467.60,166.10 L469.60,166.26 L471.60,166.42 L473.60,166.59 L475.60,166.76 L477.60,166.92 L479.60,167.09 L481.60,167.26 L483.60,167.43 L485.60,167.60 L487.60,167.77 L489.60,167.94 L491.60,168.11 L493.60,168.28 L495.60,168.45 L497.60,168.62 L499.60,168.79 L501.60,168.96 L503.60,169.13 L505.60,169.30 L507.60,169.47 L509.60,169.63 L511.60,169.80 L513.60,169.96 L515.60,170.13 L517.60,170.29 L519.60,170.45 L521.60,170.61 L523.60,170.77 L525.60,170.92 L527.60,171.08 L529.60,171.23 L531.60,171.38 L533.60,171.53 L535.60,171.68 L537.60,171.83 L539.60,171.98 L541.60,172.12 L543.60,172.26 L545.60,172.40 L547.60,172.54 L549.60,172.67 L551.60,172.80 L553.60,172.93 L555.60,173.06 L557.60,173.19 L559.60,173.31 L561.60,173.44 L563.60,173.56 L565.60,173.67 L567.60,173.79 L569.60,173.90 L571.60,174.01 L573.60,174.12 L575.60,174.23 L577.60,174.33 L579.60,174.44 L581.60,174.54 L583.60,174.63 L585.60,174.73 L587.60,174.82 L589.60,174.91 L591.60,175.00 L593.60,175.09 L595.60,175.17 L597.60,175.26 L599.60,175.34 L601.60,175.42 L603.60,175.49 L605.60,175.57 L607.60,175.64 L609.60,175.71 L611.60,175.78 L613.60,175.84 L615.60,175.91 L617.60,175.97 L619.60,176.03 L621.60,176.09 L623.60,176.15 L625.60,176.21 L627.60,176.26 L629.60,176.31 L631.60,176.36 L633.60,176.41 L635.60,176.46 L637.60,176.50 L639.60,176.55 L641.60,176.59 L643.60,176.63 L645.60,176.67 L647.60,176.71 L649.60,176.75 L651.60,176.78 L653.60,176.82 L655.60,176.85 L657.60,176.89 L659.60,176.92 L661.60,176.95 L663.60,176.98 L665.60,177.00 L667.60,177.03 L669.60,177.06 L671.60,177.08 L673.60,177.10 L675.60,177.13 L677.60,177.15 L679.60,177.17 L681.50,177.19" fill="none" stroke="#ff0000" stroke-width="2.0" stroke-linejoin="round"/>
<text x="57.6" y="180.20" font-size="10.2" text-anchor="middle">0</text>
<text x="58.9" y="167.95" font-size="10.2" text-anchor="middle">100</text>
<text x="59.2" y="154.05" font-size="10.2" text-anchor="middle">200</text>
<text x="26.2" y="161.10" font-size="13.8">D3</text>
<line x1="151.19" y1="190.20" x2="151.19" y2="221.50" stroke="#ebebeb" stroke-width="1"/>
<line x1="232.77" y1="190.20" x2="232.77" y2="221.50" stroke="#ebebeb" stroke-width="1"/>
<line x1="314.36" y1="190.20" x2="314.36" y2="221.50" stroke="#ebebeb" stroke-width="1"/>
<line x1="395.94" y1="190.20" x2="395.94" y2="221.50" stroke="#ebebeb" stroke-width="1"/>
<line x1="477.53" y1="190.20" x2="477.53" y2="221.50" stroke="#ebebeb" stroke-width="1"/>
<line x1="681.50" y1="190.20" x2="681.50" y2="221.50" stroke="#ebebeb" stroke-width="1"/>
<line x1="69.6" y1="205.85" x2="681.50" y2="205.85" stroke="#ebebeb" stroke-width="1"/>
<line x1="69.6" y1="190.20" x2="681.50" y2="190.20" stroke="#ebebeb" stroke-width="1"/>
<line x1="69.6" y1="190.20" x2="69.6" y2="221.50" stroke="#8c8c8c" stroke-width="1"/>
<line x1="69.6" y1="221.50" x2="76.1" y2="221.50" stroke="#8c8c8c" stroke-width="1"/>
<line x1="69.6" y1="205.85" x2="76.1" y2="205.85" stroke="#8c8c8c" stroke-width="1"/>
<line x1="69.6" y1="190.20" x2="76.1" y2="190.20" stroke="#8c8c8c" stroke-width="1"/>
<line x1="151.19" y1="214.50" x2="151.19" y2="221.50" stroke="#8c8c8c" stroke-width="1"/>
<line x1="232.77" y1="214.50" x2="232.77" y2="221.50" stroke="#8c8c8c" stroke-width="1"/>
<line x1="314.36" y1="214.50" x2="314.36" y2="221.50" stroke="#8c8c8c" stroke-width="1"/>
<line x1="395.94" y1="214.50" x2="395.94" y2="221.50" stroke="#8c8c8c" stroke-width="1"/>
<line x1="477.53" y1="214.50" x2="477.53" y2="221.50" stroke="#8c8c8c" stroke-width="1"/>
<line x1="681.50" y1="214.50" x2="681.50" y2="221.50" stroke="#8c8c8c" stroke-width="1"/>
<rect x="151.19" y="213.20" width="40.79" height="8.30" fill="#0000ff" fill-opacity="0.5"/>
<rect x="191.98" y="198.60" width="40.79" height="22.90" fill="#0000ff" fill-opacity="0.5"/>
<rect x="232.77" y="192.10" width="40.79" height="29.40" fill="#0000ff" fill-opacity="0.5"/>
<rect x="273.57" y="192.10" width="40.79" height="29.40" fill="#0000ff" fill-opacity="0.5"/>
<rect x="314.36" y="206.70" width="40.79" height="14.80" fill="#0000ff" fill-opacity="0.5"/>
<rect x="355.15" y="214.90" width="40.79" height="6.60" fill="#0000ff" fill-opacity="0.5"/>
<rect x="151.19" y="220.24" width="40.79" height="1.26" fill="#ff0000" fill-opacity="0.5"/>
<rect x="191.98" y="217.65" width="40.79" height="3.85" fill="#ff0000" fill-opacity="0.5"/>
<rect x="232.77" y="214.14" width="40.79" height="7.36" fill="#ff0000" fill-opacity="0.5"/>
<rect x="273.57" y="207.00" width="40.79" height="14.50" fill="#ff0000" fill-opacity="0.5"/>
<rect x="314.36" y="203.50" width="40.79" height="18.00" fill="#ff0000" fill-opacity="0.5"/>
<rect x="355.15" y="202.60" width="40.79" height="18.90" fill="#ff0000" fill-opacity="0.5"/>
<rect x="395.94" y="203.50" width="40.79" height="18.00" fill="#ff0000" fill-opacity="0.5"/>
<rect x="436.74" y="207.00" width="40.79" height="14.50" fill="#ff0000" fill-opacity="0.5"/>
<rect x="477.53" y="210.20" width="40.79" height="11.30" fill="#ff0000" fill-opacity="0.5"/>
<rect x="518.32" y="215.80" width="40.79" height="5.70" fill="#ff0000" fill-opacity="0.5"/>
<rect x="559.12" y="218.26" width="40.79" height="3.24" fill="#ff0000" fill-opacity="0.5"/>
<path d="M91.60,220.92 L92.60,220.89 L93.60,220.86 L94.60,220.83 L95.60,220.80 L96.60,220.77 L97.60,220.73 L98.60,220.69 L99.60,220.66 L100.60,220.62 L101.60,220.57 L102.60,220.53 L103.60,220.49 L104.60,220.44 L105.60,220.39 L106.60,220.34 L107.60,220.29 L108.60,220.24 L109.60,220.18 L110.60,220.13 L111.60,220.07 L112.60,220.00 L113.60,219.94 L114.60,219.87 L115.60,219.81 L116.60,219.73 L117.60,219.66 L118.60,219.59 L119.60,219.51 L120.60,219.43 L121.60,219.34 L122.60,219.26 L123.60,219.17 L124.60,219.07 L125.60,218.98 L126.60,218.88 L127.60,218.78 L128.60,218.68 L129.60,218.57 L130.60,218.46 L131.60,218.34 L132.60,218.23 L133.60,218.11 L134.60,217.98 L135.60,217.86 L136.60,217.73 L137.60,217.59 L138.60,217.45 L139.60,217.31 L140.60,217.17 L141.60,217.02 L142.60,216.87 L143.60,216.71 L144.60,216.55 L145.60,216.39 L146.60,216.22 L147.60,216.05 L148.60,215.87 L149.60,215.69 L150.60,215.51 L151.60,215.32 L152.60,215.13 L153.60,214.94 L154.60,214.74 L155.60,214.53 L156.60,214.32 L157.60,214.11 L158.60,213.90 L159.60,213.68 L160.60,213.45 L161.60,213.23 L162.60,213.00 L163.60,212.76 L164.60,212.52 L165.60,212.28 L166.60,212.03 L167.60,211.78 L168.60,211.53 L169.60,211.27 L170.60,211.01 L171.60,210.74 L172.60,210.47 L173.60,210.20 L174.60,209.92 L175.60,209.65 L176.60,209.36 L177.60,209.08 L178.60,208.79 L179.60,208.50 L180.60,208.21 L181.60,207.91 L182.60,207.61 L183.60,207.31 L184.60,207.01 L185.60,206.70 L186.60,206.39 L187.60,206.08 L188.60,205.77 L189.60,205.46 L190.60,205.14 L191.60,204.83 L192.60,204.51 L193.60,204.19 L194.60,203.88 L195.60,203.56 L196.60,203.24 L197.60,202.92 L198.60,202.60 L199.60,202.28 L200.60,201.96 L201.60,201.64 L202.60,201.32 L203.60,201.00 L204.60,200.69 L205.60,200.37 L206.60,200.06 L207.60,199.75 L208.60,199.44 L209.60,199.13 L210.60,198.82 L211.60,198.52 L212.60,198.22 L213.60,197.92 L214.60,197.63 L215.60,197.34 L216.60,197.05 L217.60,196.77 L218.60,196.49 L219.60,196.21 L220.60,195.94 L221.60,195.68 L222.60,195.42 L223.60,195.16 L224.60,194.91 L225.60,194.66 L226.60,194.43 L227.60,194.19 L228.60,193.96 L229.60,193.74 L230.60,193.53 L231.60,193.32 L232.60,193.12 L233.60,192.92 L234.60,192.74 L235.60,192.56 L236.60,192.38 L237.60,192.22 L238.60,192.06 L239.60,191.91 L240.60,191.77 L241.60,191.63 L242.60,191.51 L243.60,191.39 L244.60,191.28 L245.60,191.18 L246.60,191.09 L247.60,191.00 L248.60,190.93 L249.60,190.86 L250.60,190.81 L251.60,190.76 L252.60,190.72 L253.60,190.69 L254.60,190.67 L255.60,190.65 L256.60,190.65 L257.60,190.66 L258.60,190.67 L259.60,190.69 L260.60,190.73 L261.60,190.77 L262.60,190.82 L263.60,190.88 L264.60,190.95 L265.60,191.02 L266.60,191.11 L267.60,191.20 L268.60,191.31 L269.60,191.42 L270.60,191.54 L271.60,191.66 L272.60,191.80 L273.60,191.94 L274.60,192.10 L275.60,192.26 L276.60,192.42 L277.60,192.60 L278.60,192.78 L279.60,192.97 L280.60,193.16 L281.60,193.37 L282.60,193.58 L283.60,193.79 L284.60,194.02 L285.60,194.25 L286.60,194.48 L287.60,194.72 L288.60,194.97 L289.60,195.22 L290.60,195.48 L291.60,195.74 L292.60,196.01 L293.60,196.28 L294.60,196.55 L295.60,196.83 L296.60,197.12 L297.60,197.41 L298.60,197.70 L299.60,197.99 L300.60,198.29 L301.60,198.59 L302.60,198.89 L303.60,199.20 L304.60,199.51 L305.60,199.82 L306.60,200.13 L307.60,200.45 L308.60,200.76 L309.60,201.08 L310.60,201.39 L311.60,201.71 L312.60,202.03 L313.60,202.35 L314.60,202.67 L315.60,202.99 L316.60,203.31 L317.60,203.63 L318.60,203.95 L319.60,204.27 L320.60,204.59 L321.60,204.90 L322.60,205.22 M324.60,205.85 L325.60,206.16 L326.60,206.47 L327.60,206.77 L328.60,207.08 L329.60,207.38 L330.60,207.68 L331.60,207.98 L332.60,208.28 L333.60,208.57 L334.60,208.86 L335.60,209.15 L336.60,209.43 L337.60,209.71 L338.60,209.99 L339.60,210.26 L340.60,210.54 L341.60,210.80 L342.60,211.07 L343.60,211.33 L344.60,211.59 L345.60,211.84 L346.60,212.09 L347.60,212.34 L348.60,212.58 L349.60,212.82 L350.60,213.05 L351.60,213.28 L352.60,213.51 L353.60,213.73 L354.60,213.95 L355.60,214.16 L356.60,214.37 L357.60,214.58 L358.60,214.78 L359.60,214.98 L360.60,215.18 L361.60,215.37 L362.60,215.55 L363.60,215.74 L364.60,215.91 L365.60,216.09 L366.60,216.26 L367.60,216.43 L368.60,216.59 L369.60,216.75 L370.60,216.90 L371.60,217.06 L372.60,217.20 L373.60,217.35 L374.60,217.49 L375.60,217.62 L376.60,217.76 L377.60,217.89 L378.60,218.01 L379.60,218.14 L380.60,218.26 L381.60,218.37 L382.60,218.48 L383.60,218.59 L384.60,218.70 L385.60,218.80 L386.60,218.90 L387.60,219.00 L388.60,219.10 L389.60,219.19 L390.60,219.28 L391.60,219.36 L392.60,219.44 L393.60,219.53 L394.60,219.60 L395.60,219.68 L396.60,219.75 L397.60,219.82 L398.60,219.89 L399.60,219.96 L400.60,220.02 L401.60,220.08 L402.60,220.14 L403.60,220.20 L404.60,220.25 L405.60,220.30 L406.60,220.36 L407.60,220.41 L408.60,220.45 L409.60,220.50 L410.60,220.54 L411.60,220.58 L412.60,220.63 L413.60,220.66 L414.60,220.70 L415.60,220.74 L416.60,220.77 L417.60,220.81 L418.60,220.84 L419.60,220.87 L420.60,220.90 L421.60,220.93 L422.60,220.95 L423.60,220.98 L424.60,221.00 L425.60,221.03 L426.60,221.05 L427.60,221.07 L428.60,221.09 L429.60,221.11 L430.60,221.13 L431.60,221.15 L432.60,221.17 L433.60,221.19 L434.60,221.20 L435.60,221.22 L436.60,221.23 L437.60,221.25 L438.60,221.26 L439.60,221.27 L440.60,221.28 L441.60,221.29 L442.60,221.31 L443.60,221.32 L444.60,221.33 L445.60,221.33 L446.60,221.34 L447.60,221.35 L448.60,221.36 L449.60,221.37 L450.60,221.38 L451.60,221.38 L452.60,221.39 L453.60,221.39 L454.60,221.40 L455.60,221.41 L456.60,221.41 L457.60,221.42 L458.60,221.42 L459.60,221.43 L460.60,221.43 L461.60,221.43 L462.60,221.44 L463.60,221.44 L464.60,221.45 L465.60,221.45 L466.60,221.45 L467.60,221.45 L468.60,221.46 L469.60,221.46 L470.60,221.46 L471.60,221.46 L472.60,221.47 L473.60,221.47 L474.60,221.47 L475.60,221.47 L476.60,221.47 L477.60,221.48 L478.60,221.48 L479.60,221.48 L480.60,221.48 L481.60,221.48 L482.60,221.48 L483.60,221.48 L484.60,221.48 L485.60,221.49 L486.60,221.49 L487.60,221.49 L488.60,221.49 L489.60,221.49 L490.60,221.49 L491.60,221.49 L492.60,221.49 L493.60,221.49 L494.60,221.49 L495.60,221.49 L496.60,221.49 L497.60,221.49 L498.60,221.49 L499.60,221.49 L500.60,221.49 L501.60,221.50 L502.60,221.50 L503.60,221.50 L504.60,221.50 L505.60,221.50 L506.60,221.50 L507.60,221.50 L508.60,221.50 L509.60,221.50 L510.60,221.50 L511.60,221.50 L512.60,221.50 L513.60,221.50 L514.60,221.50 L515.60,221.50 L516.60,221.50 L517.60,221.50 L518.60,221.50 L519.60,221.50 L520.60,221.50 L521.60,221.50 L522.60,221.50 L523.60,221.50 L524.60,221.50 L525.60,221.50 L526.60,221.50 L527.60,221.50 L528.60,221.50 L529.60,221.50 L530.60,221.50 L531.60,221.50 L532.60,221.50 L533.60,221.50 L534.60,221.50 L535.60,221.50 L536.60,221.50 L537.60,221.50 L538.60,221.50 L539.60,221.50 L540.60,221.50 L541.60,221.50 L542.60,221.50 L543.60,221.50 L544.60,221.50 L545.60,221.50 L546.60,221.50 L547.60,221.50 L548.60,221.50 L549.60,221.50 L550.60,221.50 L551.60,221.50 L552.60,221.50 L553.60,221.50 L554.60,221.50 L555.60,221.50 L556.60,221.50 L557.60,221.50 L558.60,221.50 L559.60,221.50 L560.60,221.50 L561.60,221.50 L562.60,221.50 L563.60,221.50 L564.60,221.50 L565.60,221.50 L566.60,221.50 L567.60,221.50 L568.60,221.50 L569.60,221.50 L570.60,221.50 L571.60,221.50 L572.60,221.50 L573.60,221.50 L574.60,221.50 L575.60,221.50 L576.60,221.50 L577.60,221.50 L578.60,221.50 L579.60,221.50 L580.60,221.50 L581.60,221.50 L582.60,221.50 L583.60,221.50 L584.60,221.50 L585.60,221.50 L586.60,221.50 L587.60,221.50 L588.60,221.50 L589.60,221.50 L590.60,221.50 L591.60,221.50 L592.60,221.50 L593.60,221.50 L594.60,221.50 L595.60,221.50 L596.60,221.50 L597.60,221.50 L598.60,221.50 L599.60,221.50 L600.60,221.50 L601.60,221.50 L602.60,221.50 L603.60,221.50 L604.60,221.50 L605.60,221.50 L606.60,221.50 L607.60,221.50 L608.60,221.50 L609.60,221.50 L610.60,221.50 L611.60,221.50 L612.60,221.50 L613.60,221.50 L614.60,221.50 L615.60,221.50 L616.60,221.50 L617.60,221.50 L618.60,221.50 L619.60,221.50 L620.60,221.50 L621.60,221.50 L622.60,221.50 L623.60,221.50 L624.60,221.50 L625.60,221.50 L626.60,221.50 L627.60,221.50 L628.60,221.50 L629.60,221.50 L630.60,221.50 L631.60,221.50 L632.60,221.50 L633.60,221.50 L634.60,221.50 L635.60,221.50 L636.60,221.50 L637.60,221.50 L638.60,221.50 L639.60,221.50 L640.60,221.50 L641.60,221.50 L642.60,221.50 L643.60,221.50 L644.60,221.50 L645.60,221.50 L646.60,221.50 L647.60,221.50 L648.60,221.50 L649.60,221.50 L650.60,221.50 L651.60,221.50 L652.60,221.50 L653.60,221.50 L654.60,221.50 L655.60,221.50 L656.60,221.50 L657.60,221.50 L658.60,221.50 L659.60,221.50 L660.60,221.50 L661.60,221.50 L662.60,221.50 L663.60,221.50 L664.60,221.50 L665.60,221.50 L666.60,221.50 L667.60,221.50 L668.60,221.50 L669.60,221.50 L670.60,221.50 L671.60,221.50 L672.60,221.50 L673.60,221.50 L674.60,221.50 L675.60,221.50 L676.60,221.50 L677.60,221.50 L678.60,221.50 L679.60,221.50 L680.60,221.50 L681.50,221.50" fill="none" stroke="#0000ff" stroke-width="2.0" stroke-linejoin="round"/>
<path d="M69.60,221.30 L71.60,221.29 L73.60,221.28 L75.60,221.27 L77.60,221.25 L79.60,221.24 L81.60,221.22 L83.60,221.21 L85.60,221.19 L87.60,221.17 L89.60,221.16 L91.60,221.14 L93.60,221.12 L95.60,221.10 L97.60,221.08 L99.60,221.05 L101.60,221.03 L103.60,221.00 L105.60,220.98 L107.60,220.95 L109.60,220.92 L111.60,220.89 L113.60,220.86 L115.60,220.83 L117.60,220.80 L119.60,220.76 L121.60,220.73 L123.60,220.69 L125.60,220.65 L127.60,220.61 L129.60,220.56 L131.60,220.52 L133.60,220.47 L135.60,220.43 L137.60,220.38 L139.60,220.33 L141.60,220.27 L143.60,220.22 L145.60,220.16 L147.60,220.10 L149.60,220.04 L151.60,219.97 L153.60,219.91 L155.60,219.84 L157.60,219.77 L159.60,219.70 L161.60,219.62 L163.60,219.54 L165.60,219.46 L167.60,219.38 L169.60,219.29 L171.60,219.21 L173.60,219.12 L175.60,219.02 L177.60,218.93 L179.60,218.83 L181.60,218.73 L183.60,218.62 L185.60,218.51 L187.60,218.40 L189.60,218.29 L191.60,218.17 L193.60,218.05 L195.60,217.93 L197.60,217.81 L199.60,217.68 L201.60,217.55 L203.60,217.41 L205.60,217.27 L207.60,217.13 L209.60,216.99 L211.60,216.84 L213.60,216.69 L215.60,216.54 L217.60,216.38 L219.60,216.23 L221.60,216.06 L223.60,215.90 L225.60,215.73 L227.60,215.56 L229.60,215.39 L231.60,215.21 L233.60,215.03 L235.60,214.85 L237.60,214.66 L239.60,214.48 L241.60,214.29 L243.60,214.10 L245.60,213.90 L247.60,213.70 L249.60,213.50 L251.60,213.30 L253.60,213.10 L255.60,212.89 L257.60,212.69 L259.60,212.48 L261.60,212.27 L263.60,212.05 L265.60,211.84 L267.60,211.63 L269.60,211.41 L271.60,211.19 L273.60,210.97 L275.60,210.75 L277.60,210.53 L279.60,210.31 L281.60,210.09 L283.60,209.87 L285.60,209.65 L287.60,209.43 L289.60,209.21 L291.60,208.99 L293.60,208.77 L295.60,208.55 L297.60,208.33 L299.60,208.12 L301.60,207.90 L303.60,207.69 L305.60,207.48 L307.60,207.27 L309.60,207.06 L311.60,206.85 L313.60,206.65 L315.60,206.45 L317.60,206.25 L319.60,206.05 L321.60,205.86 L323.60,205.67 L325.60,205.48 L327.60,205.30 L329.60,205.12 L331.60,204.95 L333.60,204.78 L335.60,204.61 L337.60,204.45 L339.60,204.29 L341.60,204.14 L343.60,203.99 L345.60,203.85 L347.60,203.71 L349.60,203.58 L351.60,203.45 L353.60,203.33 L355.60,203.22 L357.60,203.11 L359.60,203.00 L361.60,202.90 L363.60,202.81 L365.60,202.73 L367.60,202.65 L369.60,202.58 L371.60,202.51 L373.60,202.45 L375.60,202.40 L377.60,202.35 L379.60,202.31 L381.60,202.28 L383.60,202.25 L385.60,202.24 L387.60,202.22 L389.60,202.22 L391.60,202.22 L393.60,202.23 L395.60,202.24 L397.60,202.27 L399.60,202.30 L401.60,202.33 L403.60,202.37 L405.60,202.42 L407.60,202.48 L409.60,202.54 L411.60,202.61 L413.60,202.69 L415.60,202.77 L417.60,202.86 L419.60,202.95 L421.60,203.05 L423.60,203.16 L425.60,203.27 L427.60,203.39 L429.60,203.51 L431.60,203.64 L433.60,203.78 L435.60,203.92 L437.60,204.06 L439.60,204.21 L441.60,204.37 L443.60,204.53 L445.60,204.69 L447.60,204.86 L449.60,205.03 L451.60,205.21 L453.60,205.39 L455.60,205.58 L457.60,205.76 L459.60,205.95 L461.60,206.15 L463.60,206.35 L465.60,206.55 L467.60,206.75 L469.60,206.95 L471.60,207.16 L473.60,207.37 L475.60,207.58 L477.60,207.80 L479.60,208.01 L481.60,208.23 L483.60,208.44 L485.60,208.66 L487.60,208.88 L489.60,209.10 L491.60,209.32 L493.60,209.54 L495.60,209.76 L497.60,209.98 L499.60,210.20 L501.60,210.42 L503.60,210.64 L505.60,210.86 L507.60,211.08 L509.60,211.30 L511.60,211.52 L513.60,211.73 L515.60,211.95 L517.60,212.16 L519.60,212.37 L521.60,212.58 L523.60,212.79 L525.60,213.00 L527.60,213.20 L529.60,213.40 L531.60,213.60 L533.60,213.80 L535.60,214.00 L537.60,214.19 L539.60,214.38 L541.60,214.57 L543.60,214.76 L545.60,214.94 L547.60,215.12 L549.60,215.30 L551.60,215.47 L553.60,215.65 L555.60,215.82 L557.60,215.98 L559.60,216.15 L561.60,216.31 L563.60,216.46 L565.60,216.62 L567.60,216.77 L569.60,216.92 L571.60,217.06 L573.60,217.20 L575.60,217.34 L577.60,217.48 L579.60,217.61 L581.60,217.74 L583.60,217.87 L585.60,217.99 L587.60,218.11 L589.60,218.23 L591.60,218.35 L593.60,218.46 L595.60,218.57 L597.60,218.67 L599.60,218.78 L601.60,218.88 L603.60,218.97 L605.60,219.07 L607.60,219.16 L609.60,219.25 L611.60,219.34 L613.60,219.42 L615.60,219.50 L617.60,219.58 L619.60,219.66 L621.60,219.73 L623.60,219.80 L625.60,219.87 L627.60,219.94 L629.60,220.01 L631.60,220.07 L633.60,220.13 L635.60,220.19 L637.60,220.24 L639.60,220.30 L641.60,220.35 L643.60,220.40 L645.60,220.45 L647.60,220.50 L649.60,220.54 L651.60,220.59 L653.60,220.63 L655.60,220.67 L657.60,220.71 L659.60,220.74 L661.60,220.78 L663.60,220.81 L665.60,220.85 L667.60,220.88 L669.60,220.91 L671.60,220.94 L673.60,220.96 L675.60,220.99 L677.60,221.02 L679.60,221.04 L681.50,221.06" fill="none" stroke="#ff0000" stroke-width="2.0" stroke-linejoin="round"/>
<text x="57.6" y="224.95" font-size="10.2" text-anchor="middle">0</text>
<text x="58.9" y="210.15" font-size="10.2" text-anchor="middle">100</text>
<text x="59.2" y="194.85" font-size="10.2" text-anchor="middle">200</text>
<text x="26.2" y="207.80" font-size="13.8">D4</text>
<line x1="151.19" y1="234.00" x2="151.19" y2="265.30" stroke="#ebebeb" stroke-width="1"/>
<line x1="232.77" y1="234.00" x2="232.77" y2="265.30" stroke="#ebebeb" stroke-width="1"/>
<line x1="314.36" y1="234.00" x2="314.36" y2="265.30" stroke="#ebebeb" stroke-width="1"/>
<line x1="395.94" y1="234.00" x2="395.94" y2="265.30" stroke="#ebebeb" stroke-width="1"/>
<line x1="477.53" y1="234.00" x2="477.53" y2="265.30" stroke="#ebebeb" stroke-width="1"/>
<line x1="681.50" y1="234.00" x2="681.50" y2="265.30" stroke="#ebebeb" stroke-width="1"/>
<line x1="69.6" y1="249.75" x2="681.50" y2="249.75" stroke="#ebebeb" stroke-width="1"/>
<line x1="69.6" y1="234.20" x2="681.50" y2="234.20" stroke="#ebebeb" stroke-width="1"/>
<line x1="69.6" y1="234.00" x2="69.6" y2="265.30" stroke="#8c8c8c" stroke-width="1"/>
<line x1="69.6" y1="265.30" x2="76.1" y2="265.30" stroke="#8c8c8c" stroke-width="1"/>
<line x1="69.6" y1="249.75" x2="76.1" y2="249.75" stroke="#8c8c8c" stroke-width="1"/>
<line x1="69.6" y1="234.20" x2="76.1" y2="234.20" stroke="#8c8c8c" stroke-width="1"/>
<line x1="151.19" y1="258.30" x2="151.19" y2="265.30" stroke="#8c8c8c" stroke-width="1"/>
<line x1="232.77" y1="258.30" x2="232.77" y2="265.30" stroke="#8c8c8c" stroke-width="1"/>
<line x1="314.36" y1="258.30" x2="314.36" y2="265.30" stroke="#8c8c8c" stroke-width="1"/>
<line x1="395.94" y1="258.30" x2="395.94" y2="265.30" stroke="#8c8c8c" stroke-width="1"/>
<line x1="477.53" y1="258.30" x2="477.53" y2="265.30" stroke="#8c8c8c" stroke-width="1"/>
<line x1="681.50" y1="258.30" x2="681.50" y2="265.30" stroke="#8c8c8c" stroke-width="1"/>
<rect x="151.19" y="257.20" width="40.79" height="8.10" fill="#0000ff" fill-opacity="0.5"/>
<rect x="191.98" y="249.00" width="40.79" height="16.30" fill="#0000ff" fill-opacity="0.5"/>
<rect x="232.77" y="240.20" width="40.79" height="25.10" fill="#0000ff" fill-opacity="0.5"/>
<rect x="273.57" y="241.40" width="40.79" height="23.90" fill="#0000ff" fill-opacity="0.5"/>
<rect x="314.36" y="245.00" width="40.79" height="20.30" fill="#0000ff" fill-opacity="0.5"/>
<rect x="355.15" y="254.50" width="40.79" height="10.80" fill="#0000ff" fill-opacity="0.5"/>
<rect x="395.94" y="258.90" width="40.79" height="6.40" fill="#0000ff" fill-opacity="0.5"/>
<rect x="436.74" y="262.70" width="40.79" height="2.60" fill="#0000ff" fill-opacity="0.5"/>
<rect x="151.19" y="263.75" width="40.79" height="1.55" fill="#ff0000" fill-opacity="0.5"/>
<rect x="191.98" y="260.75" width="40.79" height="4.55" fill="#ff0000" fill-opacity="0.5"/>
<rect x="232.77" y="254.50" width="40.79" height="10.80" fill="#ff0000" fill-opacity="0.5"/>
<rect x="273.57" y="251.90" width="40.79" height="13.40" fill="#ff0000" fill-opacity="0.5"/>
<rect x="314.36" y="245.40" width="40.79" height="19.90" fill="#ff0000" fill-opacity="0.5"/>
<rect x="355.15" y="246.60" width="40.79" height="18.70" fill="#ff0000" fill-opacity="0.5"/>
<rect x="395.94" y="248.40" width="40.79" height="16.90" fill="#ff0000" fill-opacity="0.5"/>
<rect x="436.74" y="253.70" width="40.79" height="11.60" fill="#ff0000" fill-opacity="0.5"/>
<rect x="477.53" y="255.40" width="40.79" height="9.90" fill="#ff0000" fill-opacity="0.5"/>
<rect x="518.32" y="261.20" width="40.79" height="4.10" fill="#ff0000" fill-opacity="0.5"/>
<rect x="559.12" y="261.95" width="40.79" height="3.35" fill="#ff0000" fill-opacity="0.5"/>
<path d="M75.60,264.37 L76.60,264.34 L77.60,264.31 L78.60,264.28 L79.60,264.25 L80.60,264.21 L81.60,264.18 L82.60,264.14 L83.60,264.10 L84.60,264.06 L85.60,264.02 L86.60,263.98 L87.60,263.94 L88.60,263.90 L89.60,263.86 L90.60,263.81 L91.60,263.77 L92.60,263.72 L93.60,263.67 L94.60,263.62 L95.60,263.57 L96.60,263.52 L97.60,263.47 L98.60,263.41 L99.60,263.36 L100.60,263.30 L101.60,263.24 L102.60,263.18 L103.60,263.12 L104.60,263.06 L105.60,262.99 L106.60,262.93 L107.60,262.86 L108.60,262.79 L109.60,262.72 L110.60,262.65 L111.60,262.58 L112.60,262.50 L113.60,262.43 L114.60,262.35 L115.60,262.27 L116.60,262.19 L117.60,262.11 L118.60,262.02 L119.60,261.94 L120.60,261.85 L121.60,261.76 L122.60,261.67 L123.60,261.58 L124.60,261.49 L125.60,261.39 L126.60,261.29 L127.60,261.19 L128.60,261.09 L129.60,260.99 L130.60,260.88 L131.60,260.78 L132.60,260.67 L133.60,260.56 L134.60,260.45 L135.60,260.33 L136.60,260.22 L137.60,260.10 L138.60,259.98 L139.60,259.86 L140.60,259.74 L141.60,259.61 L142.60,259.48 L143.60,259.35 L144.60,259.22 L145.60,259.09 L146.60,258.96 L147.60,258.82 L148.60,258.68 L149.60,258.54 L150.60,258.40 L151.60,258.26 L152.60,258.11 L153.60,257.97 L154.60,257.82 L155.60,257.67 L156.60,257.51 L157.60,257.36 L158.60,257.20 L159.60,257.05 L160.60,256.89 L161.60,256.73 L162.60,256.56 L163.60,256.40 L164.60,256.24 L165.60,256.07 L166.60,255.90 L167.60,255.73 L168.60,255.56 L169.60,255.38 L170.60,255.21 L171.60,255.03 L172.60,254.85 L173.60,254.68 L174.60,254.50 L175.60,254.31 L176.60,254.13 L177.60,253.95 L178.60,253.76 L179.60,253.58 L180.60,253.39 L181.60,253.20 L182.60,253.01 L183.60,252.82 L184.60,252.63 L185.60,252.44 L186.60,252.25 L187.60,252.05 L188.60,251.86 L189.60,251.67 L190.60,251.47 L191.60,251.27 L192.60,251.08 L193.60,250.88 L194.60,250.69 L195.60,250.49 L196.60,250.29 L197.60,250.09 L198.60,249.90 L199.60,249.70 L200.60,249.50 L201.60,249.31 L202.60,249.11 L203.60,248.91 L204.60,248.71 L205.60,248.52 L206.60,248.32 L207.60,248.13 L208.60,247.93 L209.60,247.74 L210.60,247.55 L211.60,247.35 L212.60,247.16 L213.60,246.97 L214.60,246.78 L215.60,246.59 L216.60,246.41 L217.60,246.22 L218.60,246.04 L219.60,245.85 L220.60,245.67 L221.60,245.49 L222.60,245.31 L223.60,245.14 L224.60,244.96 L225.60,244.79 L226.60,244.62 L227.60,244.45 L228.60,244.28 L229.60,244.11 L230.60,243.95 L231.60,243.79 L232.60,243.63 L233.60,243.48 L234.60,243.32 L235.60,243.17 L236.60,243.02 L237.60,242.88 L238.60,242.73 L239.60,242.59 L240.60,242.46 L241.60,242.32 L242.60,242.19 L243.60,242.06 L244.60,241.94 L245.60,241.81 L246.60,241.69 L247.60,241.58 L248.60,241.47 L249.60,241.36 L250.60,241.25 L251.60,241.15 L252.60,241.05 L253.60,240.96 L254.60,240.86 L255.60,240.78 L256.60,240.69 L257.60,240.61 L258.60,240.54 L259.60,240.46 L260.60,240.39 L261.60,240.33 L262.60,240.27 L263.60,240.21 L264.60,240.16 L265.60,240.11 L266.60,240.06 L267.60,240.02 L268.60,239.99 L269.60,239.95 L270.60,239.92 L271.60,239.90 L272.60,239.88 L273.60,239.86 L274.60,239.85 L275.60,239.84 L276.60,239.84 L277.60,239.84 L278.60,239.84 L279.60,239.85 L280.60,239.86 L281.60,239.88 L282.60,239.90 L283.60,239.93 L284.60,239.96 L285.60,239.99 L286.60,240.03 L287.60,240.07 L288.60,240.11 L289.60,240.16 L290.60,240.22 L291.60,240.27 L292.60,240.34 L293.60,240.40 L294.60,240.47 L295.60,240.54 L296.60,240.62 L297.60,240.70 L298.60,240.79 L299.60,240.87 L300.60,240.97 L301.60,241.06 L302.60,241.16 L303.60,241.26 L304.60,241.37 L305.60,241.48 L306.60,241.59 L307.60,241.71 L308.60,241.83 L309.60,241.95 L310.60,242.07 L311.60,242.20 L312.60,242.34 L313.60,242.47 L314.60,242.61 L315.60,242.75 L316.60,242.89 L317.60,243.04 L318.60,243.19 L319.60,243.34 L320.60,243.49 L321.60,243.65 L322.60,243.81 L323.60,243.97 L324.60,244.13 L325.60,244.30 L326.60,244.47 L327.60,244.64 L328.60,244.81 L329.60,244.98 L330.60,245.16 L331.60,245.33 L332.60,245.51 M335.60,246.06 L336.60,246.24 L337.60,246.43 L338.60,246.62 L339.60,246.80 L340.60,246.99 L341.60,247.18 L342.60,247.38 L343.60,247.57 L344.60,247.76 L345.60,247.96 L346.60,248.15 L347.60,248.34 L348.60,248.54 L349.60,248.74 L350.60,248.93 L351.60,249.13 L352.60,249.33 L353.60,249.52 L354.60,249.72 L355.60,249.92 L356.60,250.12 L357.60,250.31 L358.60,250.51 L359.60,250.71 L360.60,250.90 L361.60,251.10 L362.60,251.30 L363.60,251.49 L364.60,251.69 L365.60,251.88 L366.60,252.08 L367.60,252.27 L368.60,252.46 L369.60,252.65 L370.60,252.84 L371.60,253.03 L372.60,253.22 L373.60,253.41 L374.60,253.60 L375.60,253.78 L376.60,253.97 L377.60,254.15 L378.60,254.33 L379.60,254.52 L380.60,254.70 L381.60,254.87 L382.60,255.05 L383.60,255.23 L384.60,255.40 L385.60,255.58 L386.60,255.75 L387.60,255.92 L388.60,256.09 L389.60,256.25 L390.60,256.42 L391.60,256.58 L392.60,256.75 L393.60,256.91 L394.60,257.07 L395.60,257.22 L396.60,257.38 L397.60,257.53 L398.60,257.68 L399.60,257.83 L400.60,257.98 L401.60,258.13 L402.60,258.27 L403.60,258.42 L404.60,258.56 L405.60,258.70 L406.60,258.84 L407.60,258.97 L408.60,259.11 L409.60,259.24 L410.60,259.37 L411.60,259.50 L412.60,259.62 L413.60,259.75 L414.60,259.87 L415.60,259.99 L416.60,260.11 L417.60,260.23 L418.60,260.34 L419.60,260.46 L420.60,260.57 L421.60,260.68 L422.60,260.79 L423.60,260.89 L424.60,261.00 L425.60,261.10 L426.60,261.20 L427.60,261.30 L428.60,261.40 L429.60,261.50 L430.60,261.59 L431.60,261.68 L432.60,261.77 L433.60,261.86 L434.60,261.95 L435.60,262.03 L436.60,262.12 L437.60,262.20 L438.60,262.28 L439.60,262.36 L440.60,262.44 L441.60,262.51 L442.60,262.59 L443.60,262.66 L444.60,262.73 L445.60,262.80 L446.60,262.87 L447.60,262.93 L448.60,263.00 L449.60,263.06 L450.60,263.13 L451.60,263.19 L452.60,263.25 L453.60,263.30 L454.60,263.36 L455.60,263.42 L456.60,263.47 L457.60,263.52 L458.60,263.58 L459.60,263.63 L460.60,263.68 L461.60,263.72 L462.60,263.77 L463.60,263.82 L464.60,263.86 L465.60,263.90 L466.60,263.95 L467.60,263.99 L468.60,264.03 L469.60,264.07 L470.60,264.11 L471.60,264.14 L472.60,264.18 L473.60,264.22 L474.60,264.25 L475.60,264.28 L476.60,264.32 L477.60,264.35 L478.60,264.38 L479.60,264.41 L480.60,264.44 L481.60,264.47 L482.60,264.49 L483.60,264.52 L484.60,264.55 L485.60,264.57 L486.60,264.60 L487.60,264.62 L488.60,264.64 L489.60,264.66 L490.60,264.69 L491.60,264.71 L492.60,264.73 L493.60,264.75 L494.60,264.77 L495.60,264.79 L496.60,264.80 L497.60,264.82 L498.60,264.84 L499.60,264.85 L500.60,264.87 L501.60,264.89 L502.60,264.90 L503.60,264.92 L504.60,264.93 L505.60,264.94 L506.60,264.96 L507.60,264.97 L508.60,264.98 L509.60,264.99 L510.60,265.00 L511.60,265.02 L512.60,265.03 L513.60,265.04 L514.60,265.05 L515.60,265.06 L516.60,265.07 L517.60,265.07 L518.60,265.08 L519.60,265.09 L520.60,265.10 L521.60,265.11 L522.60,265.12 L523.60,265.12 L524.60,265.13 L525.60,265.14 L526.60,265.14 L527.60,265.15 L528.60,265.16 L529.60,265.16 L530.60,265.17 L531.60,265.17 L532.60,265.18 L533.60,265.18 L534.60,265.19 L535.60,265.19 L536.60,265.20 L537.60,265.20 L538.60,265.20 L539.60,265.21 L540.60,265.21 L541.60,265.22 L542.60,265.22 L543.60,265.22 L544.60,265.23 L545.60,265.23 L546.60,265.23 L547.60,265.24 L548.60,265.24 L549.60,265.24 L550.60,265.24 L551.60,265.25 L552.60,265.25 L553.60,265.25 L554.60,265.25 L555.60,265.25 L556.60,265.26 L557.60,265.26 L558.60,265.26 L559.60,265.26 L560.60,265.26 L561.60,265.27 L562.60,265.27 L563.60,265.27 L564.60,265.27 L565.60,265.27 L566.60,265.27 L567.60,265.27 L568.60,265.28 L569.60,265.28 L570.60,265.28 L571.60,265.28 L572.60,265.28 L573.60,265.28 L574.60,265.28 L575.60,265.28 L576.60,265.28 L577.60,265.28 L578.60,265.28 L579.60,265.29 L580.60,265.29 L581.60,265.29 L582.60,265.29 L583.60,265.29 L584.60,265.29 L585.60,265.29 L586.60,265.29 L587.60,265.29 L588.60,265.29 L589.60,265.29 L590.60,265.29 L591.60,265.29 L592.60,265.29 L593.60,265.29 L594.60,265.29 L595.60,265.29 L596.60,265.29 L597.60,265.29 L598.60,265.29 L599.60,265.29 L600.60,265.30 L601.60,265.30 L602.60,265.30 L603.60,265.30 L604.60,265.30 L605.60,265.30 L606.60,265.30 L607.60,265.30 L608.60,265.30 L609.60,265.30 L610.60,265.30 L611.60,265.30 L612.60,265.30 L613.60,265.30 L614.60,265.30 L615.60,265.30 L616.60,265.30 L617.60,265.30 L618.60,265.30 L619.60,265.30 L620.60,265.30 L621.60,265.30 L622.60,265.30 L623.60,265.30 L624.60,265.30 L625.60,265.30 L626.60,265.30 L627.60,265.30 L628.60,265.30 L629.60,265.30 L630.60,265.30 L631.60,265.30 L632.60,265.30 L633.60,265.30 L634.60,265.30 L635.60,265.30 L636.60,265.30 L637.60,265.30 L638.60,265.30 L639.60,265.30 L640.60,265.30 L641.60,265.30 L642.60,265.30 L643.60,265.30 L644.60,265.30 L645.60,265.30 L646.60,265.30 L647.60,265.30 L648.60,265.30 L649.60,265.30 L650.60,265.30 L651.60,265.30 L652.60,265.30 L653.60,265.30 L654.60,265.30 L655.60,265.30 L656.60,265.30 L657.60,265.30 L658.60,265.30 L659.60,265.30 L660.60,265.30 L661.60,265.30 L662.60,265.30 L663.60,265.30 L664.60,265.30 L665.60,265.30 L666.60,265.30 L667.60,265.30 L668.60,265.30 L669.60,265.30 L670.60,265.30 L671.60,265.30 L672.60,265.30 L673.60,265.30 L674.60,265.30 L675.60,265.30 L676.60,265.30 L677.60,265.30 L678.60,265.30 L679.60,265.30 L680.60,265.30 L681.50,265.30" fill="none" stroke="#0000ff" stroke-width="2.0" stroke-linejoin="round"/>
<path d="M69.60,264.67 L71.60,264.64 L73.60,264.61 L75.60,264.58 L77.60,264.55 L79.60,264.51 L81.60,264.47 L83.60,264.44 L85.60,264.40 L87.60,264.36 L89.60,264.32 L91.60,264.27 L93.60,264.23 L95.60,264.18 L97.60,264.13 L99.60,264.08 L101.60,264.03 L103.60,263.98 L105.60,263.92 L107.60,263.86 L109.60,263.81 L111.60,263.74 L113.60,263.68 L115.60,263.62 L117.60,263.55 L119.60,263.48 L121.60,263.41 L123.60,263.34 L125.60,263.26 L127.60,263.18 L129.60,263.10 L131.60,263.02 L133.60,262.93 L135.60,262.84 L137.60,262.75 L139.60,262.66 L141.60,262.57 L143.60,262.47 L145.60,262.37 L147.60,262.27 L149.60,262.16 L151.60,262.05 L153.60,261.94 L155.60,261.83 L157.60,261.71 L159.60,261.59 L161.60,261.47 L163.60,261.35 L165.60,261.22 L167.60,261.09 L169.60,260.96 L171.60,260.82 L173.60,260.68 L175.60,260.54 L177.60,260.40 L179.60,260.25 L181.60,260.10 L183.60,259.95 L185.60,259.79 L187.60,259.63 L189.60,259.47 L191.60,259.31 L193.60,259.14 L195.60,258.97 L197.60,258.80 L199.60,258.63 L201.60,258.45 L203.60,258.27 L205.60,258.09 L207.60,257.90 L209.60,257.72 L211.60,257.53 L213.60,257.34 L215.60,257.14 L217.60,256.95 L219.60,256.75 L221.60,256.55 L223.60,256.35 L225.60,256.15 L227.60,255.94 L229.60,255.74 L231.60,255.53 L233.60,255.32 L235.60,255.11 L237.60,254.89 L239.60,254.68 L241.60,254.47 L243.60,254.25 L245.60,254.04 L247.60,253.82 L249.60,253.60 L251.60,253.38 L253.60,253.17 L255.60,252.95 L257.60,252.73 L259.60,252.51 L261.60,252.29 L263.60,252.08 L265.60,251.86 L267.60,251.64 L269.60,251.43 L271.60,251.21 L273.60,251.00 L275.60,250.79 L277.60,250.58 L279.60,250.37 L281.60,250.16 L283.60,249.96 L285.60,249.75 L287.60,249.55 L289.60,249.35 L291.60,249.15 L293.60,248.96 L295.60,248.77 L297.60,248.58 L299.60,248.40 L301.60,248.21 L303.60,248.04 L305.60,247.86 L307.60,247.69 L309.60,247.52 L311.60,247.36 L313.60,247.20 L315.60,247.04 L317.60,246.89 L319.60,246.74 L321.60,246.60 L323.60,246.47 L325.60,246.33 L327.60,246.21 L329.60,246.08 L331.60,245.97 L333.60,245.85 L335.60,245.75 L337.60,245.65 L339.60,245.55 L341.60,245.46 L343.60,245.38 L345.60,245.30 L347.60,245.23 L349.60,245.16 L351.60,245.10 L353.60,245.05 L355.60,245.00 L357.60,244.96 L359.60,244.92 L361.60,244.89 L363.60,244.87 L365.60,244.85 L367.60,244.84 L369.60,244.84 L371.60,244.84 L373.60,244.85 L375.60,244.86 L377.60,244.88 L379.60,244.91 L381.60,244.94 L383.60,244.98 L385.60,245.03 L387.60,245.08 L389.60,245.14 L391.60,245.20 L393.60,245.27 L395.60,245.35 L397.60,245.43 L399.60,245.52 L401.60,245.61 L403.60,245.71 L405.60,245.82 L407.60,245.93 L409.60,246.04 L411.60,246.16 L413.60,246.29 L415.60,246.42 L417.60,246.55 L419.60,246.69 L421.60,246.84 L423.60,246.99 L425.60,247.14 L427.60,247.30 L429.60,247.46 L431.60,247.63 L433.60,247.80 L435.60,247.97 L437.60,248.15 L439.60,248.33 L441.60,248.52 L443.60,248.70 L445.60,248.89 L447.60,249.09 L449.60,249.28 L451.60,249.48 L453.60,249.68 L455.60,249.88 L457.60,250.09 L459.60,250.30 L461.60,250.50 L463.60,250.71 L465.60,250.93 L467.60,251.14 L469.60,251.35 L471.60,251.57 L473.60,251.78 L475.60,252.00 L477.60,252.22 L479.60,252.44 L481.60,252.65 L483.60,252.87 L485.60,253.09 L487.60,253.31 L489.60,253.53 L491.60,253.74 L493.60,253.96 L495.60,254.18 L497.60,254.39 L499.60,254.61 L501.60,254.82 L503.60,255.03 L505.60,255.24 L507.60,255.45 L509.60,255.66 L511.60,255.87 L513.60,256.07 L515.60,256.28 L517.60,256.48 L519.60,256.68 L521.60,256.88 L523.60,257.08 L525.60,257.27 L527.60,257.46 L529.60,257.65 L531.60,257.84 L533.60,258.02 L535.60,258.21 L537.60,258.39 L539.60,258.56 L541.60,258.74 L543.60,258.91 L545.60,259.08 L547.60,259.25 L549.60,259.41 L551.60,259.58 L553.60,259.74 L555.60,259.89 L557.60,260.05 L559.60,260.20 L561.60,260.34 L563.60,260.49 L565.60,260.63 L567.60,260.77 L569.60,260.91 L571.60,261.04 L573.60,261.17 L575.60,261.30 L577.60,261.43 L579.60,261.55 L581.60,261.67 L583.60,261.79 L585.60,261.90 L587.60,262.01 L589.60,262.12 L591.60,262.23 L593.60,262.33 L595.60,262.43 L597.60,262.53 L599.60,262.63 L601.60,262.72 L603.60,262.81 L605.60,262.90 L607.60,262.99 L609.60,263.07 L611.60,263.15 L613.60,263.23 L615.60,263.31 L617.60,263.38 L619.60,263.46 L621.60,263.53 L623.60,263.59 L625.60,263.66 L627.60,263.72 L629.60,263.78 L631.60,263.84 L633.60,263.90 L635.60,263.96 L637.60,264.01 L639.60,264.06 L641.60,264.12 L643.60,264.16 L645.60,264.21 L647.60,264.26 L649.60,264.30 L651.60,264.34 L653.60,264.38 L655.60,264.42 L657.60,264.46 L659.60,264.50 L661.60,264.53 L663.60,264.57 L665.60,264.60 L667.60,264.63 L669.60,264.66 L671.60,264.69 L673.60,264.72 L675.60,264.74 L677.60,264.77 L679.60,264.80 L681.50,264.82" fill="none" stroke="#ff0000" stroke-width="2.0" stroke-linejoin="round"/>
<text x="57.6" y="268.50" font-size="10.2" text-anchor="middle">0</text>
<text x="58.9" y="253.60" font-size="10.2" text-anchor="middle">100</text>
<text x="59.2" y="238.75" font-size="10.2" text-anchor="middle">200</text>
<text x="26.2" y="252.60" font-size="13.8">D5</text>
<line x1="151.19" y1="277.60" x2="151.19" y2="309.20" stroke="#ebebeb" stroke-width="1"/>
<line x1="232.77" y1="277.60" x2="232.77" y2="309.20" stroke="#ebebeb" stroke-width="1"/>
<line x1="314.36" y1="277.60" x2="314.36" y2="309.20" stroke="#ebebeb" stroke-width="1"/>
<line x1="395.94" y1="277.60" x2="395.94" y2="309.20" stroke="#ebebeb" stroke-width="1"/>
<line x1="477.53" y1="277.60" x2="477.53" y2="309.20" stroke="#ebebeb" stroke-width="1"/>
<line x1="681.50" y1="277.60" x2="681.50" y2="309.20" stroke="#ebebeb" stroke-width="1"/>
<line x1="69.6" y1="293.40" x2="681.50" y2="293.40" stroke="#ebebeb" stroke-width="1"/>
<line x1="69.6" y1="277.60" x2="681.50" y2="277.60" stroke="#ebebeb" stroke-width="1"/>
<line x1="69.6" y1="277.60" x2="69.6" y2="309.20" stroke="#8c8c8c" stroke-width="1"/>
<line x1="69.6" y1="309.20" x2="76.1" y2="309.20" stroke="#8c8c8c" stroke-width="1"/>
<line x1="69.6" y1="293.40" x2="76.1" y2="293.40" stroke="#8c8c8c" stroke-width="1"/>
<line x1="69.6" y1="277.60" x2="76.1" y2="277.60" stroke="#8c8c8c" stroke-width="1"/>
<line x1="151.19" y1="302.20" x2="151.19" y2="309.20" stroke="#8c8c8c" stroke-width="1"/>
<line x1="232.77" y1="302.20" x2="232.77" y2="309.20" stroke="#8c8c8c" stroke-width="1"/>
<line x1="314.36" y1="302.20" x2="314.36" y2="309.20" stroke="#8c8c8c" stroke-width="1"/>
<line x1="395.94" y1="302.20" x2="395.94" y2="309.20" stroke="#8c8c8c" stroke-width="1"/>
<line x1="477.53" y1="302.20" x2="477.53" y2="309.20" stroke="#8c8c8c" stroke-width="1"/>
<line x1="681.50" y1="302.20" x2="681.50" y2="309.20" stroke="#8c8c8c" stroke-width="1"/>
<rect x="110.39" y="307.20" width="40.79" height="2.00" fill="#0000ff" fill-opacity="0.5"/>
<rect x="151.19" y="301.00" width="40.79" height="8.20" fill="#0000ff" fill-opacity="0.5"/>
<rect x="191.98" y="294.20" width="40.79" height="15.00" fill="#0000ff" fill-opacity="0.5"/>
<rect x="232.77" y="281.80" width="40.79" height="27.40" fill="#0000ff" fill-opacity="0.5"/>
<rect x="273.57" y="284.40" width="40.79" height="24.80" fill="#0000ff" fill-opacity="0.5"/>
<rect x="314.36" y="291.40" width="40.79" height="17.80" fill="#0000ff" fill-opacity="0.5"/>
<rect x="355.15" y="296.80" width="40.79" height="12.40" fill="#0000ff" fill-opacity="0.5"/>
<rect x="395.94" y="303.50" width="40.79" height="5.70" fill="#0000ff" fill-opacity="0.5"/>
<rect x="436.74" y="307.60" width="40.79" height="1.60" fill="#0000ff" fill-opacity="0.5"/>
<rect x="110.39" y="307.64" width="40.79" height="1.56" fill="#ff0000" fill-opacity="0.5"/>
<rect x="151.19" y="304.75" width="40.79" height="4.45" fill="#ff0000" fill-opacity="0.5"/>
<rect x="191.98" y="301.54" width="40.79" height="7.66" fill="#ff0000" fill-opacity="0.5"/>
<rect x="232.77" y="296.70" width="40.79" height="12.50" fill="#ff0000" fill-opacity="0.5"/>
<rect x="273.57" y="290.20" width="40.79" height="19.00" fill="#ff0000" fill-opacity="0.5"/>
<rect x="314.36" y="291.00" width="40.79" height="18.20" fill="#ff0000" fill-opacity="0.5"/>
<rect x="355.15" y="294.60" width="40.79" height="14.60" fill="#ff0000" fill-opacity="0.5"/>
<rect x="395.94" y="296.10" width="40.79" height="13.10" fill="#ff0000" fill-opacity="0.5"/>
<rect x="436.74" y="299.60" width="40.79" height="9.60" fill="#ff0000" fill-opacity="0.5"/>
<rect x="477.53" y="300.70" width="40.79" height="8.50" fill="#ff0000" fill-opacity="0.5"/>
<rect x="518.32" y="305.40" width="40.79" height="3.80" fill="#ff0000" fill-opacity="0.5"/>
<path d="M69.60,308.41 L70.60,308.38 L71.60,308.35 L72.60,308.32 L73.60,308.29 L74.60,308.26 L75.60,308.23 L76.60,308.20 L77.60,308.16 L78.60,308.13 L79.60,308.09 L80.60,308.06 L81.60,308.02 L82.60,307.98 L83.60,307.94 L84.60,307.90 L85.60,307.86 L86.60,307.82 L87.60,307.77 L88.60,307.73 L89.60,307.68 L90.60,307.63 L91.60,307.58 L92.60,307.53 L93.60,307.48 L94.60,307.43 L95.60,307.38 L96.60,307.32 L97.60,307.26 L98.60,307.21 M113.60,306.16 L114.60,306.07 L115.60,305.99 L116.60,305.90 L117.60,305.81 L118.60,305.72 L119.60,305.63 L120.60,305.54 L121.60,305.44 L122.60,305.35 L123.60,305.25 L124.60,305.14 L125.60,305.04 L126.60,304.94 L127.60,304.83 L128.60,304.72 L129.60,304.61 L130.60,304.50 L131.60,304.38 L132.60,304.27 L133.60,304.15 L134.60,304.03 L135.60,303.91 L136.60,303.78 L137.60,303.65 L138.60,303.53 L139.60,303.39 L140.60,303.26 L141.60,303.13 L142.60,302.99 L143.60,302.85 L144.60,302.71 L145.60,302.57 L146.60,302.42 L147.60,302.28 L148.60,302.13 L149.60,301.98 L150.60,301.82 L151.60,301.67 L152.60,301.51 L153.60,301.35 L154.60,301.19 L155.60,301.03 L156.60,300.86 L157.60,300.70 L158.60,300.53 L159.60,300.36 L160.60,300.19 L161.60,300.01 L162.60,299.84 L163.60,299.66 L164.60,299.48 L165.60,299.30 L166.60,299.12 L167.60,298.93 L168.60,298.75 L169.60,298.56 L170.60,298.37 L171.60,298.18 L172.60,297.98 L173.60,297.79 L174.60,297.59 L175.60,297.40 L176.60,297.20 L177.60,297.00 L178.60,296.80 L179.60,296.60 L180.60,296.39 L181.60,296.19 L182.60,295.99 L183.60,295.78 L184.60,295.57 L185.60,295.36 L186.60,295.15 L187.60,294.94 L188.60,294.73 L189.60,294.52 L190.60,294.31 L191.60,294.10 L192.60,293.88 L193.60,293.67 L194.60,293.46 L195.60,293.24 L196.60,293.03 L197.60,292.81 L198.60,292.60 L199.60,292.39 L200.60,292.17 L201.60,291.96 L202.60,291.74 L203.60,291.53 L204.60,291.31 L205.60,291.10 L206.60,290.89 L207.60,290.68 L208.60,290.46 L209.60,290.25 L210.60,290.04 L211.60,289.83 L212.60,289.62 L213.60,289.42 L214.60,289.21 L215.60,289.01 L216.60,288.80 L217.60,288.60 L218.60,288.40 L219.60,288.20 L220.60,288.00 L221.60,287.80 L222.60,287.61 L223.60,287.42 L224.60,287.23 L225.60,287.04 L226.60,286.85 L227.60,286.67 L228.60,286.48 L229.60,286.30 L230.60,286.13 L231.60,285.95 L232.60,285.78 L233.60,285.61 L234.60,285.44 L235.60,285.28 L236.60,285.12 L237.60,284.96 L238.60,284.80 L239.60,284.65 L240.60,284.50 L241.60,284.35 L242.60,284.21 L243.60,284.07 L244.60,283.93 L245.60,283.80 L246.60,283.67 L247.60,283.54 L248.60,283.42 L249.60,283.30 L250.60,283.19 L251.60,283.08 L252.60,282.97 L253.60,282.87 L254.60,282.77 L255.60,282.67 L256.60,282.58 L257.60,282.49 L258.60,282.41 L259.60,282.33 L260.60,282.26 L261.60,282.19 L262.60,282.12 L263.60,282.06 L264.60,282.00 L265.60,281.95 L266.60,281.90 L267.60,281.86 L268.60,281.82 L269.60,281.78 L270.60,281.75 L271.60,281.73 L272.60,281.70 L273.60,281.69 L274.60,281.67 L275.60,281.67 L276.60,281.66 L277.60,281.66 L278.60,281.67 L279.60,281.68 L280.60,281.69 L281.60,281.71 L282.60,281.74 L283.60,281.77 L284.60,281.80 L285.60,281.84 L286.60,281.88 L287.60,281.92 L288.60,281.97 L289.60,282.03 L290.60,282.09 L291.60,282.15 L292.60,282.22 L293.60,282.29 L294.60,282.37 L295.60,282.45 L296.60,282.53 L297.60,282.62 L298.60,282.72 L299.60,282.81 L300.60,282.91 L301.60,283.02 L302.60,283.13 L303.60,283.24 L304.60,283.36 L305.60,283.48 L306.60,283.60 L307.60,283.73 L308.60,283.86 L309.60,284.00 L310.60,284.13 L311.60,284.27 L312.60,284.42 L313.60,284.57 L314.60,284.72 L315.60,284.87 L316.60,285.03 L317.60,285.19 L318.60,285.35 L319.60,285.52 L320.60,285.69 L321.60,285.86 L322.60,286.03 L323.60,286.21 L324.60,286.39 L325.60,286.57 L326.60,286.75 L327.60,286.94 L328.60,287.13 L329.60,287.31 L330.60,287.51 L331.60,287.70 L332.60,287.90 L333.60,288.09 L334.60,288.29 L335.60,288.49 L336.60,288.69 L337.60,288.90 L338.60,289.10 L339.60,289.31 L340.60,289.51 L341.60,289.72 M344.60,290.35 L345.60,290.56 L346.60,290.77 L347.60,290.99 L348.60,291.20 L349.60,291.41 L350.60,291.63 L351.60,291.84 L352.60,292.05 L353.60,292.27 L354.60,292.48 L355.60,292.70 L356.60,292.91 L357.60,293.13 L358.60,293.34 L359.60,293.56 L360.60,293.77 L361.60,293.98 L362.60,294.20 L363.60,294.41 L364.60,294.62 L365.60,294.83 L366.60,295.04 L367.60,295.25 L368.60,295.46 L369.60,295.67 L370.60,295.87 L371.60,296.08 L372.60,296.28 L373.60,296.49 L374.60,296.69 L375.60,296.89 L376.60,297.09 L377.60,297.29 L378.60,297.49 L379.60,297.69 L380.60,297.88 L381.60,298.07 L382.60,298.27 L383.60,298.46 L384.60,298.64 L385.60,298.83 L386.60,299.02 L387.60,299.20 L388.60,299.38 L389.60,299.56 L390.60,299.74 L391.60,299.92 L392.60,300.09 L393.60,300.27 L394.60,300.44 L395.60,300.61 L396.60,300.78 L397.60,300.94 L398.60,301.10 L399.60,301.27 L400.60,301.43 L401.60,301.58 L402.60,301.74 L403.60,301.89 L404.60,302.05 L405.60,302.20 L406.60,302.34 L407.60,302.49 L408.60,302.63 L409.60,302.78 L410.60,302.92 L411.60,303.05 L412.60,303.19 L413.60,303.32 L414.60,303.46 L415.60,303.58 L416.60,303.71 L417.60,303.84 L418.60,303.96 L419.60,304.08 L420.60,304.20 L421.60,304.32 L422.60,304.44 L423.60,304.55 L424.60,304.66 L425.60,304.77 L426.60,304.88 L427.60,304.99 L428.60,305.09 L429.60,305.19 L430.60,305.29 L431.60,305.39 L432.60,305.49 L433.60,305.58 L434.60,305.67 L435.60,305.77 L436.60,305.85 L437.60,305.94 L438.60,306.03 L439.60,306.11 L440.60,306.19 L441.60,306.27 L442.60,306.35 L443.60,306.43 L444.60,306.51 L445.60,306.58 L446.60,306.65 L447.60,306.72 L448.60,306.79 L449.60,306.86 L450.60,306.93 L451.60,306.99 L452.60,307.05 L453.60,307.11 L454.60,307.17 L455.60,307.23 L456.60,307.29 L457.60,307.35 L458.60,307.40 L459.60,307.45 L460.60,307.51 L461.60,307.56 L462.60,307.61 L463.60,307.66 L464.60,307.70 L465.60,307.75 L466.60,307.79 L467.60,307.84 L468.60,307.88 L469.60,307.92 L470.60,307.96 L471.60,308.00 L472.60,308.04 L473.60,308.07 L474.60,308.11 L475.60,308.15 L476.60,308.18 L477.60,308.21 L478.60,308.25 L479.60,308.28 L480.60,308.31 L481.60,308.34 L482.60,308.37 L483.60,308.39 L484.60,308.42 L485.60,308.45 L486.60,308.47 L487.60,308.50 L488.60,308.52 L489.60,308.55 L490.60,308.57 L491.60,308.59 L492.60,308.61 L493.60,308.63 L494.60,308.65 L495.60,308.67 L496.60,308.69 L497.60,308.71 L498.60,308.73 L499.60,308.74 L500.60,308.76 L501.60,308.78 L502.60,308.79 L503.60,308.81 L504.60,308.82 L505.60,308.83 L506.60,308.85 L507.60,308.86 L508.60,308.87 L509.60,308.89 L510.60,308.90 L511.60,308.91 L512.60,308.92 L513.60,308.93 L514.60,308.94 L515.60,308.95 L516.60,308.96 L517.60,308.97 L518.60,308.98 L519.60,308.99 L520.60,309.00 L521.60,309.00 L522.60,309.01 L523.60,309.02 L524.60,309.03 L525.60,309.03 L526.60,309.04 L527.60,309.05 L528.60,309.05 L529.60,309.06 L530.60,309.07 L531.60,309.07 L532.60,309.08 L533.60,309.08 L534.60,309.09 L535.60,309.09 L536.60,309.10 L537.60,309.10 L538.60,309.10 L539.60,309.11 L540.60,309.11 L541.60,309.12 L542.60,309.12 L543.60,309.12 L544.60,309.13 L545.60,309.13 L546.60,309.13 L547.60,309.14 L548.60,309.14 L549.60,309.14 L550.60,309.14 L551.60,309.15 L552.60,309.15 L553.60,309.15 L554.60,309.15 L555.60,309.16 L556.60,309.16 L557.60,309.16 L558.60,309.16 L559.60,309.16 L560.60,309.16 L561.60,309.17 L562.60,309.17 L563.60,309.17 L564.60,309.17 L565.60,309.17 L566.60,309.17 L567.60,309.17 L568.60,309.18 L569.60,309.18 L570.60,309.18 L571.60,309.18 L572.60,309.18 L573.60,309.18 L574.60,309.18 L575.60,309.18 L576.60,309.18 L577.60,309.18 L578.60,309.19 L579.60,309.19 L580.60,309.19 L581.60,309.19 L582.60,309.19 L583.60,309.19 L584.60,309.19 L585.60,309.19 L586.60,309.19 L587.60,309.19 L588.60,309.19 L589.60,309.19 L590.60,309.19 L591.60,309.19 L592.60,309.19 L593.60,309.19 L594.60,309.19 L595.60,309.19 L596.60,309.19 L597.60,309.19 L598.60,309.19 L599.60,309.19 L600.60,309.20 L601.60,309.20 L602.60,309.20 L603.60,309.20 L604.60,309.20 L605.60,309.20 L606.60,309.20 L607.60,309.20 L608.60,309.20 L609.60,309.20 L610.60,309.20 L611.60,309.20 L612.60,309.20 L613.60,309.20 L614.60,309.20 L615.60,309.20 L616.60,309.20 L617.60,309.20 L618.60,309.20 L619.60,309.20 L620.60,309.20 L621.60,309.20 L622.60,309.20 L623.60,309.20 L624.60,309.20 L625.60,309.20 L626.60,309.20 L627.60,309.20 L628.60,309.20 L629.60,309.20 L630.60,309.20 L631.60,309.20 L632.60,309.20 L633.60,309.20 L634.60,309.20 L635.60,309.20 L636.60,309.20 L637.60,309.20 L638.60,309.20 L639.60,309.20 L640.60,309.20 L641.60,309.20 L642.60,309.20 L643.60,309.20 L644.60,309.20 L645.60,309.20 L646.60,309.20 L647.60,309.20 L648.60,309.20 L649.60,309.20 L650.60,309.20 L651.60,309.20 L652.60,309.20 L653.60,309.20 L654.60,309.20 L655.60,309.20 L656.60,309.20 L657.60,309.20 L658.60,309.20 L659.60,309.20 L660.60,309.20 L661.60,309.20 L662.60,309.20 L663.60,309.20 L664.60,309.20 L665.60,309.20 L666.60,309.20 L667.60,309.20 L668.60,309.20 L669.60,309.20 L670.60,309.20 L671.60,309.20 L672.60,309.20 L673.60,309.20 L674.60,309.20 L675.60,309.20 L676.60,309.20 L677.60,309.20 L678.60,309.20 L679.60,309.20 L680.60,309.20 L681.50,309.20" fill="none" stroke="#0000ff" stroke-width="2.0" stroke-linejoin="round"/>
<path d="M69.60,307.88 L71.60,307.83 L73.60,307.78 L75.60,307.72 L77.60,307.67 L79.60,307.61 L81.60,307.55 L83.60,307.49 L85.60,307.43 L87.60,307.37 L89.60,307.30 L91.60,307.23 L93.60,307.17 L95.60,307.09 L97.60,307.02 L99.60,306.95 L101.60,306.87 L103.60,306.79 L105.60,306.71 L107.60,306.63 L109.60,306.54 L111.60,306.46 L113.60,306.37 L115.60,306.28 L117.60,306.19 L119.60,306.09 L121.60,305.99 L123.60,305.89 L125.60,305.79 L127.60,305.69 L129.60,305.58 L131.60,305.47 L133.60,305.36 L135.60,305.25 L137.60,305.14 L139.60,305.02 L141.60,304.90 L143.60,304.78 L145.60,304.65 L147.60,304.53 L149.60,304.40 L151.60,304.27 L153.60,304.14 L155.60,304.00 L157.60,303.86 L159.60,303.72 L161.60,303.58 L163.60,303.44 L165.60,303.29 L167.60,303.14 L169.60,302.99 L171.60,302.84 L173.60,302.69 L175.60,302.53 L177.60,302.37 L179.60,302.21 L181.60,302.05 L183.60,301.89 L185.60,301.72 L187.60,301.55 L189.60,301.38 L191.60,301.21 L193.60,301.04 L195.60,300.86 L197.60,300.69 L199.60,300.51 L201.60,300.33 L203.60,300.15 L205.60,299.97 L207.60,299.79 L209.60,299.61 L211.60,299.42 L213.60,299.24 L215.60,299.05 L217.60,298.87 L219.60,298.68 L221.60,298.49 L223.60,298.30 L225.60,298.11 L227.60,297.92 L229.60,297.73 L231.60,297.54 L233.60,297.35 L235.60,297.16 L237.60,296.97 L239.60,296.79 L241.60,296.60 L243.60,296.41 L245.60,296.22 L247.60,296.03 L249.60,295.85 L251.60,295.66 L253.60,295.48 L255.60,295.29 L257.60,295.11 L259.60,294.93 L261.60,294.75 L263.60,294.57 L265.60,294.40 L267.60,294.22 L269.60,294.05 L271.60,293.88 L273.60,293.71 L275.60,293.55 L277.60,293.38 L279.60,293.22 L281.60,293.06 L283.60,292.91 L285.60,292.76 L287.60,292.60 L289.60,292.46 L291.60,292.31 L293.60,292.17 L295.60,292.04 L297.60,291.90 L299.60,291.77 L301.60,291.64 L303.60,291.52 L305.60,291.40 L307.60,291.29 L309.60,291.17 L311.60,291.07 L313.60,290.96 L315.60,290.86 L317.60,290.77 L319.60,290.68 L321.60,290.59 L323.60,290.51 L325.60,290.43 L327.60,290.36 L329.60,290.29 L331.60,290.23 L333.60,290.17 L335.60,290.12 L337.60,290.07 L339.60,290.03 L341.60,289.99 L343.60,289.95 L345.60,289.92 L347.60,289.90 L349.60,289.88 L351.60,289.87 L353.60,289.86 L355.60,289.85 L357.60,289.86 L359.60,289.86 L361.60,289.87 L363.60,289.89 L365.60,289.91 L367.60,289.94 L369.60,289.97 L371.60,290.00 L373.60,290.05 L375.60,290.09 L377.60,290.14 L379.60,290.20 L381.60,290.26 L383.60,290.33 L385.60,290.40 L387.60,290.47 L389.60,290.55 L391.60,290.63 L393.60,290.72 L395.60,290.82 L397.60,290.91 L399.60,291.01 L401.60,291.12 L403.60,291.23 L405.60,291.34 L407.60,291.46 L409.60,291.58 L411.60,291.71 L413.60,291.83 L415.60,291.97 L417.60,292.10 L419.60,292.24 L421.60,292.38 L423.60,292.53 L425.60,292.68 L427.60,292.83 L429.60,292.98 L431.60,293.14 L433.60,293.30 L435.60,293.46 L437.60,293.63 L439.60,293.80 L441.60,293.96 L443.60,294.14 L445.60,294.31 L447.60,294.48 L449.60,294.66 L451.60,294.84 L453.60,295.02 L455.60,295.20 L457.60,295.38 L459.60,295.57 L461.60,295.75 L463.60,295.94 L465.60,296.13 L467.60,296.31 L469.60,296.50 L471.60,296.69 L473.60,296.88 L475.60,297.07 L477.60,297.26 L479.60,297.45 L481.60,297.64 L483.60,297.83 L485.60,298.02 L487.60,298.21 L489.60,298.39 L491.60,298.58 L493.60,298.77 L495.60,298.96 L497.60,299.14 L499.60,299.33 L501.60,299.51 L503.60,299.70 L505.60,299.88 L507.60,300.06 L509.60,300.24 L511.60,300.42 L513.60,300.60 L515.60,300.78 L517.60,300.95 L519.60,301.12 L521.60,301.30 L523.60,301.47 L525.60,301.63 L527.60,301.80 L529.60,301.97 L531.60,302.13 L533.60,302.29 L535.60,302.45 L537.60,302.61 L539.60,302.76 L541.60,302.92 L543.60,303.07 L545.60,303.22 L547.60,303.36 L549.60,303.51 L551.60,303.65 L553.60,303.79 L555.60,303.93 L557.60,304.07 L559.60,304.20 L561.60,304.33 L563.60,304.46 L565.60,304.59 L567.60,304.72 L569.60,304.84 L571.60,304.96 L573.60,305.08 L575.60,305.19 L577.60,305.31 L579.60,305.42 L581.60,305.53 L583.60,305.64 L585.60,305.74 L587.60,305.84 L589.60,305.94 L591.60,306.04 L593.60,306.14 L595.60,306.23 L597.60,306.32 L599.60,306.41 L601.60,306.50 L603.60,306.59 L605.60,306.67 L607.60,306.75 L609.60,306.83 L611.60,306.91 L613.60,306.98 L615.60,307.06 L617.60,307.13 L619.60,307.20 L621.60,307.27 L623.60,307.33 L625.60,307.40 L627.60,307.46 L629.60,307.52 L631.60,307.58 L633.60,307.64 L635.60,307.69 L637.60,307.75 L639.60,307.80 L641.60,307.85 L643.60,307.90 L645.60,307.95 L647.60,308.00 L649.60,308.04 L651.60,308.09 L653.60,308.13 L655.60,308.17 L657.60,308.21 L659.60,308.25 L661.60,308.28 L663.60,308.32 L665.60,308.35 L667.60,308.39 L669.60,308.42 L671.60,308.45 L673.60,308.48 L675.60,308.51 L677.60,308.54 L679.60,308.57 L681.50,308.59" fill="none" stroke="#ff0000" stroke-width="2.0" stroke-linejoin="round"/>
<text x="57.6" y="312.65" font-size="10.2" text-anchor="middle">0</text>
<text x="58.9" y="298.75" font-size="10.2" text-anchor="middle">100</text>
<text x="59.2" y="282.70" font-size="10.2" text-anchor="middle">200</text>
<text x="26.2" y="293.80" font-size="13.8">D6</text>
<line x1="151.19" y1="321.70" x2="151.19" y2="353.00" stroke="#ebebeb" stroke-width="1"/>
<line x1="232.77" y1="321.70" x2="232.77" y2="353.00" stroke="#ebebeb" stroke-width="1"/>
<line x1="314.36" y1="321.70" x2="314.36" y2="353.00" stroke="#ebebeb" stroke-width="1"/>
<line x1="395.94" y1="321.70" x2="395.94" y2="353.00" stroke="#ebebeb" stroke-width="1"/>
<line x1="477.53" y1="321.70" x2="477.53" y2="353.00" stroke="#ebebeb" stroke-width="1"/>
<line x1="681.50" y1="321.70" x2="681.50" y2="353.00" stroke="#ebebeb" stroke-width="1"/>
<line x1="69.6" y1="337.35" x2="681.50" y2="337.35" stroke="#ebebeb" stroke-width="1"/>
<line x1="69.6" y1="321.70" x2="681.50" y2="321.70" stroke="#ebebeb" stroke-width="1"/>
<line x1="69.6" y1="321.70" x2="69.6" y2="353.00" stroke="#8c8c8c" stroke-width="1"/>
<line x1="69.6" y1="353.00" x2="76.1" y2="353.00" stroke="#8c8c8c" stroke-width="1"/>
<line x1="69.6" y1="337.35" x2="76.1" y2="337.35" stroke="#8c8c8c" stroke-width="1"/>
<line x1="69.6" y1="321.70" x2="76.1" y2="321.70" stroke="#8c8c8c" stroke-width="1"/>
<line x1="151.19" y1="346.00" x2="151.19" y2="353.00" stroke="#8c8c8c" stroke-width="1"/>
<line x1="232.77" y1="346.00" x2="232.77" y2="353.00" stroke="#8c8c8c" stroke-width="1"/>
<line x1="314.36" y1="346.00" x2="314.36" y2="353.00" stroke="#8c8c8c" stroke-width="1"/>
<line x1="395.94" y1="346.00" x2="395.94" y2="353.00" stroke="#8c8c8c" stroke-width="1"/>
<line x1="477.53" y1="346.00" x2="477.53" y2="353.00" stroke="#8c8c8c" stroke-width="1"/>
<line x1="681.50" y1="346.00" x2="681.50" y2="353.00" stroke="#8c8c8c" stroke-width="1"/>
<rect x="110.39" y="349.40" width="40.79" height="3.60" fill="#0000ff" fill-opacity="0.5"/>
<rect x="151.19" y="338.00" width="40.79" height="15.00" fill="#0000ff" fill-opacity="0.5"/>
<rect x="191.98" y="331.40" width="40.79" height="21.60" fill="#0000ff" fill-opacity="0.5"/>
<rect x="232.77" y="327.50" width="40.79" height="25.50" fill="#0000ff" fill-opacity="0.5"/>
<rect x="273.57" y="327.90" width="40.79" height="25.10" fill="#0000ff" fill-opacity="0.5"/>
<rect x="314.36" y="338.90" width="40.79" height="14.10" fill="#0000ff" fill-opacity="0.5"/>
<rect x="355.15" y="345.00" width="40.79" height="8.00" fill="#0000ff" fill-opacity="0.5"/>
<rect x="395.94" y="350.50" width="40.79" height="2.50" fill="#0000ff" fill-opacity="0.5"/>
<rect x="110.39" y="351.84" width="40.79" height="1.16" fill="#ff0000" fill-opacity="0.5"/>
<rect x="151.19" y="351.53" width="40.79" height="1.47" fill="#ff0000" fill-opacity="0.5"/>
<rect x="191.98" y="348.44" width="40.79" height="4.56" fill="#ff0000" fill-opacity="0.5"/>
<rect x="232.77" y="343.30" width="40.79" height="9.70" fill="#ff0000" fill-opacity="0.5"/>
<rect x="273.57" y="340.70" width="40.79" height="12.30" fill="#ff0000" fill-opacity="0.5"/>
<rect x="314.36" y="336.50" width="40.79" height="16.50" fill="#ff0000" fill-opacity="0.5"/>
<rect x="355.15" y="331.90" width="40.79" height="21.10" fill="#ff0000" fill-opacity="0.5"/>
<rect x="395.94" y="337.10" width="40.79" height="15.90" fill="#ff0000" fill-opacity="0.5"/>
<rect x="436.74" y="340.70" width="40.79" height="12.30" fill="#ff0000" fill-opacity="0.5"/>
<rect x="477.53" y="345.00" width="40.79" height="8.00" fill="#ff0000" fill-opacity="0.5"/>
<rect x="518.32" y="345.90" width="40.79" height="7.10" fill="#ff0000" fill-opacity="0.5"/>
<rect x="559.12" y="349.21" width="40.79" height="3.79" fill="#ff0000" fill-opacity="0.5"/>
<path d="M69.60,352.01 L70.60,351.98 L71.60,351.94 L72.60,351.90 L73.60,351.86 L74.60,351.82 L75.60,351.78 L76.60,351.73 L77.60,351.69 L78.60,351.64 L79.60,351.60 L80.60,351.55 L81.60,351.50 L82.60,351.45 L83.60,351.39 L84.60,351.34 L85.60,351.28 L86.60,351.23 L87.60,351.17 L88.60,351.11 L89.60,351.04 L90.60,350.98 L91.60,350.91 L92.60,350.85 L93.60,350.78 L94.60,350.71 L95.60,350.64 L96.60,350.56 L97.60,350.49 L98.60,350.41 L99.60,350.33 L100.60,350.25 L101.60,350.16 L102.60,350.08 L103.60,349.99 L104.60,349.90 L105.60,349.81 L106.60,349.71 L107.60,349.62 L108.60,349.52 L109.60,349.42 L110.60,349.32 L111.60,349.21 L112.60,349.11 L113.60,349.00 L114.60,348.89 L115.60,348.78 L116.60,348.66 L117.60,348.54 L118.60,348.42 L119.60,348.30 L120.60,348.18 L121.60,348.05 L122.60,347.92 L123.60,347.79 L124.60,347.66 L125.60,347.52 L126.60,347.38 L127.60,347.24 L128.60,347.10 L129.60,346.95 L130.60,346.80 L131.60,346.65 L132.60,346.50 L133.60,346.35 L134.60,346.19 L135.60,346.03 L136.60,345.87 L137.60,345.70 L138.60,345.54 L139.60,345.37 L140.60,345.20 L141.60,345.02 L142.60,344.85 L143.60,344.67 L144.60,344.49 L145.60,344.31 L146.60,344.13 L147.60,343.94 L148.60,343.75 L149.60,343.56 L150.60,343.37 L151.60,343.17 L152.60,342.98 L153.60,342.78 L154.60,342.58 L155.60,342.38 L156.60,342.17 L157.60,341.97 L158.60,341.76 L159.60,341.55 L160.60,341.34 L161.60,341.13 L162.60,340.92 L163.60,340.70 L164.60,340.49 L165.60,340.27 L166.60,340.05 L167.60,339.83 L168.60,339.61 L169.60,339.39 L170.60,339.17 L171.60,338.95 L172.60,338.72 L173.60,338.50 L174.60,338.27 L175.60,338.05 L176.60,337.82 L177.60,337.60 L178.60,337.37 L179.60,337.14 L180.60,336.92 L181.60,336.69 L182.60,336.46 L183.60,336.24 L184.60,336.01 L185.60,335.78 L186.60,335.56 L187.60,335.33 L188.60,335.11 L189.60,334.88 L190.60,334.66 L191.60,334.44 L192.60,334.22 L193.60,334.00 L194.60,333.78 L195.60,333.56 L196.60,333.35 L197.60,333.13 L198.60,332.92 L199.60,332.71 L200.60,332.50 L201.60,332.30 L202.60,332.09 L203.60,331.89 L204.60,331.69 L205.60,331.49 L206.60,331.29 L207.60,331.10 L208.60,330.91 L209.60,330.72 L210.60,330.54 L211.60,330.36 L212.60,330.18 L213.60,330.00 L214.60,329.83 L215.60,329.66 L216.60,329.50 L217.60,329.34 L218.60,329.18 L219.60,329.02 L220.60,328.87 L221.60,328.73 L222.60,328.58 L223.60,328.45 L224.60,328.31 L225.60,328.18 L226.60,328.05 L227.60,327.93 L228.60,327.81 L229.60,327.70 L230.60,327.59 L231.60,327.49 L232.60,327.39 L233.60,327.30 L234.60,327.21 L235.60,327.12 L236.60,327.04 L237.60,326.97 L238.60,326.90 L239.60,326.83 L240.60,326.77 L241.60,326.72 L242.60,326.67 L243.60,326.62 L244.60,326.58 L245.60,326.55 L246.60,326.52 L247.60,326.50 L248.60,326.48 L249.60,326.46 L250.60,326.46 L251.60,326.45 L252.60,326.46 L253.60,326.46 L254.60,326.48 L255.60,326.50 L256.60,326.52 L257.60,326.55 L258.60,326.58 L259.60,326.62 L260.60,326.67 L261.60,326.72 L262.60,326.77 L263.60,326.83 L264.60,326.89 L265.60,326.96 L266.60,327.04 L267.60,327.12 L268.60,327.20 L269.60,327.29 L270.60,327.39 L271.60,327.49 L272.60,327.59 L273.60,327.70 L274.60,327.81 L275.60,327.93 L276.60,328.05 L277.60,328.18 L278.60,328.31 L279.60,328.44 L280.60,328.58 L281.60,328.72 L282.60,328.87 L283.60,329.02 L284.60,329.17 L285.60,329.33 L286.60,329.49 L287.60,329.66 L288.60,329.83 L289.60,330.00 L290.60,330.17 L291.60,330.35 L292.60,330.53 L293.60,330.72 L294.60,330.90 L295.60,331.09 L296.60,331.29 L297.60,331.48 L298.60,331.68 L299.60,331.88 L300.60,332.08 L301.60,332.29 L302.60,332.49 L303.60,332.70 L304.60,332.91 L305.60,333.13 L306.60,333.34 L307.60,333.56 L308.60,333.77 L309.60,333.99 L310.60,334.21 L311.60,334.43 L312.60,334.65 M314.60,335.10 L315.60,335.32 L316.60,335.55 L317.60,335.77 L318.60,336.00 L319.60,336.23 L320.60,336.45 L321.60,336.68 L322.60,336.91 L323.60,337.13 L324.60,337.36 L325.60,337.59 L326.60,337.81 L327.60,338.04 L328.60,338.27 L329.60,338.49 L330.60,338.72 L331.60,338.94 L332.60,339.16 L333.60,339.38 L334.60,339.61 L335.60,339.83 L336.60,340.05 L337.60,340.26 L338.60,340.48 L339.60,340.70 L340.60,340.91 L341.60,341.12 L342.60,341.34 L343.60,341.55 L344.60,341.75 L345.60,341.96 L346.60,342.17 L347.60,342.37 L348.60,342.57 L349.60,342.77 L350.60,342.97 L351.60,343.17 L352.60,343.36 L353.60,343.55 L354.60,343.74 L355.60,343.93 L356.60,344.12 L357.60,344.30 L358.60,344.48 L359.60,344.66 L360.60,344.84 L361.60,345.02 L362.60,345.19 L363.60,345.36 L364.60,345.53 L365.60,345.70 L366.60,345.86 L367.60,346.02 L368.60,346.18 L369.60,346.34 L370.60,346.50 L371.60,346.65 L372.60,346.80 L373.60,346.95 L374.60,347.09 L375.60,347.23 L376.60,347.38 L377.60,347.51 L378.60,347.65 L379.60,347.78 L380.60,347.92 L381.60,348.04 L382.60,348.17 L383.60,348.30 L384.60,348.42 L385.60,348.54 L386.60,348.66 L387.60,348.77 L388.60,348.88 L389.60,349.00 L390.60,349.10 L391.60,349.21 L392.60,349.31 L393.60,349.42 L394.60,349.52 L395.60,349.61 L396.60,349.71 L397.60,349.80 L398.60,349.90 L399.60,349.99 L400.60,350.07 L401.60,350.16 L402.60,350.24 L403.60,350.32 L404.60,350.40 L405.60,350.48 L406.60,350.56 L407.60,350.63 L408.60,350.71 L409.60,350.78 L410.60,350.84 L411.60,350.91 L412.60,350.98 L413.60,351.04 L414.60,351.10 L415.60,351.16 L416.60,351.22 L417.60,351.28 L418.60,351.34 L419.60,351.39 L420.60,351.44 L421.60,351.50 L422.60,351.55 L423.60,351.59 L424.60,351.64 L425.60,351.69 L426.60,351.73 L427.60,351.78 L428.60,351.82 L429.60,351.86 L430.60,351.90 L431.60,351.94 L432.60,351.97 L433.60,352.01 L434.60,352.05 L435.60,352.08 L436.60,352.11 L437.60,352.15 L438.60,352.18 L439.60,352.21 L440.60,352.24 L441.60,352.26 L442.60,352.29 L443.60,352.32 L444.60,352.34 L445.60,352.37 L446.60,352.39 L447.60,352.42 L448.60,352.44 L449.60,352.46 L450.60,352.48 L451.60,352.50 L452.60,352.52 L453.60,352.54 L454.60,352.56 L455.60,352.57 L456.60,352.59 L457.60,352.61 L458.60,352.62 L459.60,352.64 L460.60,352.65 L461.60,352.67 L462.60,352.68 L463.60,352.69 L464.60,352.71 L465.60,352.72 L466.60,352.73 L467.60,352.74 L468.60,352.75 L469.60,352.76 L470.60,352.77 L471.60,352.78 L472.60,352.79 L473.60,352.80 L474.60,352.81 L475.60,352.82 L476.60,352.83 L477.60,352.83 L478.60,352.84 L479.60,352.85 L480.60,352.85 L481.60,352.86 L482.60,352.87 L483.60,352.87 L484.60,352.88 L485.60,352.88 L486.60,352.89 L487.60,352.89 L488.60,352.90 L489.60,352.90 L490.60,352.91 L491.60,352.91 L492.60,352.92 L493.60,352.92 L494.60,352.92 L495.60,352.93 L496.60,352.93 L497.60,352.93 L498.60,352.94 L499.60,352.94 L500.60,352.94 L501.60,352.95 L502.60,352.95 L503.60,352.95 L504.60,352.95 L505.60,352.96 L506.60,352.96 L507.60,352.96 L508.60,352.96 L509.60,352.96 L510.60,352.97 L511.60,352.97 L512.60,352.97 L513.60,352.97 L514.60,352.97 L515.60,352.97 L516.60,352.98 L517.60,352.98 L518.60,352.98 L519.60,352.98 L520.60,352.98 L521.60,352.98 L522.60,352.98 L523.60,352.98 L524.60,352.98 L525.60,352.98 L526.60,352.99 L527.60,352.99 L528.60,352.99 L529.60,352.99 L530.60,352.99 L531.60,352.99 L532.60,352.99 L533.60,352.99 L534.60,352.99 L535.60,352.99 L536.60,352.99 L537.60,352.99 L538.60,352.99 L539.60,352.99 L540.60,352.99 L541.60,352.99 L542.60,352.99 L543.60,352.99 L544.60,352.99 L545.60,353.00 L546.60,353.00 L547.60,353.00 L548.60,353.00 L549.60,353.00 L550.60,353.00 L551.60,353.00 L552.60,353.00 L553.60,353.00 L554.60,353.00 L555.60,353.00 L556.60,353.00 L557.60,353.00 L558.60,353.00 L559.60,353.00 L560.60,353.00 L561.60,353.00 L562.60,353.00 L563.60,353.00 L564.60,353.00 L565.60,353.00 L566.60,353.00 L567.60,353.00 L568.60,353.00 L569.60,353.00 L570.60,353.00 L571.60,353.00 L572.60,353.00 L573.60,353.00 L574.60,353.00 L575.60,353.00 L576.60,353.00 L577.60,353.00 L578.60,353.00 L579.60,353.00 L580.60,353.00 L581.60,353.00 L582.60,353.00 L583.60,353.00 L584.60,353.00 L585.60,353.00 L586.60,353.00 L587.60,353.00 L588.60,353.00 L589.60,353.00 L590.60,353.00 L591.60,353.00 L592.60,353.00 L593.60,353.00 L594.60,353.00 L595.60,353.00 L596.60,353.00 L597.60,353.00 L598.60,353.00 L599.60,353.00 L600.60,353.00 L601.60,353.00 L602.60,353.00 L603.60,353.00 L604.60,353.00 L605.60,353.00 L606.60,353.00 L607.60,353.00 L608.60,353.00 L609.60,353.00 L610.60,353.00 L611.60,353.00 L612.60,353.00 L613.60,353.00 L614.60,353.00 L615.60,353.00 L616.60,353.00 L617.60,353.00 L618.60,353.00 L619.60,353.00 L620.60,353.00 L621.60,353.00 L622.60,353.00 L623.60,353.00 L624.60,353.00 L625.60,353.00 L626.60,353.00 L627.60,353.00 L628.60,353.00 L629.60,353.00 L630.60,353.00 L631.60,353.00 L632.60,353.00 L633.60,353.00 L634.60,353.00 L635.60,353.00 L636.60,353.00 L637.60,353.00 L638.60,353.00 L639.60,353.00 L640.60,353.00 L641.60,353.00 L642.60,353.00 L643.60,353.00 L644.60,353.00 L645.60,353.00 L646.60,353.00 L647.60,353.00 L648.60,353.00 L649.60,353.00 L650.60,353.00 L651.60,353.00 L652.60,353.00 L653.60,353.00 L654.60,353.00 L655.60,353.00 L656.60,353.00 L657.60,353.00 L658.60,353.00 L659.60,353.00 L660.60,353.00 L661.60,353.00 L662.60,353.00 L663.60,353.00 L664.60,353.00 L665.60,353.00 L666.60,353.00 L667.60,353.00 L668.60,353.00 L669.60,353.00 L670.60,353.00 L671.60,353.00 L672.60,353.00 L673.60,353.00 L674.60,353.00 L675.60,353.00 L676.60,353.00 L677.60,353.00 L678.60,353.00 L679.60,353.00 L680.60,353.00 L681.50,353.00" fill="none" stroke="#0000ff" stroke-width="2.0" stroke-linejoin="round"/>
<path d="M69.60,352.73 L71.60,352.72 L73.60,352.70 L75.60,352.68 L77.60,352.67 L79.60,352.65 L81.60,352.63 L83.60,352.61 L85.60,352.58 L87.60,352.56 L89.60,352.54 L91.60,352.51 L93.60,352.49 L95.60,352.46 L97.60,352.43 L99.60,352.40 L101.60,352.37 L103.60,352.34 L105.60,352.30 L107.60,352.27 L109.60,352.23 L111.60,352.19 L113.60,352.15 L115.60,352.11 L117.60,352.07 L119.60,352.02 L121.60,351.97 L123.60,351.92 L125.60,351.87 L127.60,351.82 L129.60,351.77 L131.60,351.71 L133.60,351.65 L135.60,351.59 L137.60,351.52 L139.60,351.46 L141.60,351.39 L143.60,351.32 L145.60,351.24 L147.60,351.17 L149.60,351.09 L151.60,351.01 L153.60,350.92 L155.60,350.83 L157.60,350.74 L159.60,350.65 L161.60,350.55 L163.60,350.46 L165.60,350.35 L167.60,350.25 L169.60,350.14 L171.60,350.03 L173.60,349.91 L175.60,349.80 L177.60,349.67 L179.60,349.55 L181.60,349.42 L183.60,349.29 L185.60,349.15 L187.60,349.02 L189.60,348.87 L191.60,348.73 L193.60,348.58 L195.60,348.43 L197.60,348.27 L199.60,348.11 L201.60,347.95 L203.60,347.78 L205.60,347.61 L207.60,347.43 L209.60,347.25 L211.60,347.07 L213.60,346.89 L215.60,346.70 L217.60,346.51 L219.60,346.31 L221.60,346.11 L223.60,345.91 L225.60,345.70 L227.60,345.49 L229.60,345.28 L231.60,345.06 L233.60,344.84 L235.60,344.62 L237.60,344.40 L239.60,344.17 L241.60,343.94 L243.60,343.70 L245.60,343.47 L247.60,343.23 L249.60,342.99 L251.60,342.74 L253.60,342.50 L255.60,342.25 L257.60,342.00 L259.60,341.75 L261.60,341.50 L263.60,341.24 L265.60,340.98 L267.60,340.73 L269.60,340.47 L271.60,340.21 L273.60,339.95 L275.60,339.69 L277.60,339.43 L279.60,339.17 L281.60,338.91 L283.60,338.65 L285.60,338.39 L287.60,338.13 L289.60,337.87 L291.60,337.61 L293.60,337.35 L295.60,337.10 L297.60,336.84 L299.60,336.59 L301.60,336.34 L303.60,336.09 L305.60,335.84 L307.60,335.60 L309.60,335.36 L311.60,335.12 L313.60,334.89 L315.60,334.66 L317.60,334.43 L319.60,334.21 L321.60,333.99 L323.60,333.78 L325.60,333.57 L327.60,333.36 L329.60,333.16 L331.60,332.96 L333.60,332.77 L335.60,332.59 L337.60,332.41 L339.60,332.24 L341.60,332.07 L343.60,331.91 L345.60,331.75 L347.60,331.61 L349.60,331.46 L351.60,331.33 L353.60,331.20 L355.60,331.08 L357.60,330.97 L359.60,330.86 L361.60,330.76 L363.60,330.67 L365.60,330.59 L367.60,330.51 L369.60,330.44 L371.60,330.38 L373.60,330.33 L375.60,330.28 L377.60,330.25 L379.60,330.22 L381.60,330.20 L383.60,330.18 L385.60,330.18 L387.60,330.18 L389.60,330.20 L391.60,330.22 L393.60,330.24 L395.60,330.28 L397.60,330.32 L399.60,330.38 L401.60,330.44 L403.60,330.50 L405.60,330.58 L407.60,330.66 L409.60,330.75 L411.60,330.85 L413.60,330.96 L415.60,331.07 L417.60,331.19 L419.60,331.32 L421.60,331.45 L423.60,331.59 L425.60,331.74 L427.60,331.89 L429.60,332.06 L431.60,332.22 L433.60,332.39 L435.60,332.57 L437.60,332.76 L439.60,332.95 L441.60,333.14 L443.60,333.34 L445.60,333.55 L447.60,333.76 L449.60,333.97 L451.60,334.19 L453.60,334.41 L455.60,334.64 L457.60,334.87 L459.60,335.10 L461.60,335.34 L463.60,335.58 L465.60,335.82 L467.60,336.07 L469.60,336.31 L471.60,336.56 L473.60,336.82 L475.60,337.07 L477.60,337.33 L479.60,337.58 L481.60,337.84 L483.60,338.10 L485.60,338.36 L487.60,338.62 L489.60,338.88 L491.60,339.14 L493.60,339.40 L495.60,339.66 L497.60,339.93 L499.60,340.19 L501.60,340.44 L503.60,340.70 L505.60,340.96 L507.60,341.22 L509.60,341.47 L511.60,341.72 L513.60,341.98 L515.60,342.23 L517.60,342.47 L519.60,342.72 L521.60,342.96 L523.60,343.21 L525.60,343.44 L527.60,343.68 L529.60,343.92 L531.60,344.15 L533.60,344.37 L535.60,344.60 L537.60,344.82 L539.60,345.04 L541.60,345.26 L543.60,345.47 L545.60,345.68 L547.60,345.89 L549.60,346.09 L551.60,346.29 L553.60,346.49 L555.60,346.68 L557.60,346.87 L559.60,347.06 L561.60,347.24 L563.60,347.42 L565.60,347.59 L567.60,347.76 L569.60,347.93 L571.60,348.09 L573.60,348.25 L575.60,348.41 L577.60,348.56 L579.60,348.71 L581.60,348.86 L583.60,349.00 L585.60,349.14 L587.60,349.28 L589.60,349.41 L591.60,349.54 L593.60,349.66 L595.60,349.78 L597.60,349.90 L599.60,350.02 L601.60,350.13 L603.60,350.24 L605.60,350.34 L607.60,350.45 L609.60,350.55 L611.60,350.64 L613.60,350.74 L615.60,350.83 L617.60,350.91 L619.60,351.00 L621.60,351.08 L623.60,351.16 L625.60,351.24 L627.60,351.31 L629.60,351.38 L631.60,351.45 L633.60,351.52 L635.60,351.58 L637.60,351.64 L639.60,351.70 L641.60,351.76 L643.60,351.82 L645.60,351.87 L647.60,351.92 L649.60,351.97 L651.60,352.02 L653.60,352.06 L655.60,352.11 L657.60,352.15 L659.60,352.19 L661.60,352.23 L663.60,352.26 L665.60,352.30 L667.60,352.33 L669.60,352.37 L671.60,352.40 L673.60,352.43 L675.60,352.46 L677.60,352.48 L679.60,352.51 L681.50,352.53" fill="none" stroke="#ff0000" stroke-width="2.0" stroke-linejoin="round"/>
<text x="57.6" y="356.95" font-size="10.2" text-anchor="middle">0</text>
<text x="58.9" y="341.60" font-size="10.2" text-anchor="middle">100</text>
<text x="59.2" y="326.55" font-size="10.2" text-anchor="middle">200</text>
<text x="26.2" y="339.90" font-size="13.8">D7</text>
<text x="69.45" y="366" font-size="10.3" text-anchor="middle">0</text>
<text x="153" y="366" font-size="10.3" text-anchor="middle">0.02</text>
<text x="234.4" y="366" font-size="10.3" text-anchor="middle">0.04</text>
<text x="316.1" y="366" font-size="10.3" text-anchor="middle">0.06</text>
<text x="398" y="366" font-size="10.3" text-anchor="middle">0.08</text>
<text x="476.6" y="366" font-size="10.3" text-anchor="middle">0.1</text>
<text x="673.5" y="366" font-size="10.3" text-anchor="middle">0. 15</text>
<text x="324.8" y="380.8" font-size="13.5" text-anchor="middle">Gap size (mm)</text>
<text transform="translate(10.8,183.5) rotate(-90)" x="0" y="0" font-size="13.5" text-anchor="middle">No. of counts</text>
<rect x="562.5" y="3.8" width="76.8" height="34.6" fill="#fff" stroke="#8c8c8c" stroke-width="1"/>
<line x1="562" y1="39.0" x2="639.8" y2="39.0" stroke="#a6a6a6" stroke-width="1"/>
<rect x="565.5" y="8" width="34.5" height="11.5" fill="#8080ff" stroke="#40407f" stroke-width="0.8"/>
<rect x="565.5" y="23.2" width="34.5" height="11.5" fill="#ff8080" stroke="#7f4040" stroke-width="0.8"/>
<text x="602" y="17.5" font-size="9.5">Control</text>
<text x="602" y="33.7" font-size="9.5">Infected</text>
</g></svg></body></html>
